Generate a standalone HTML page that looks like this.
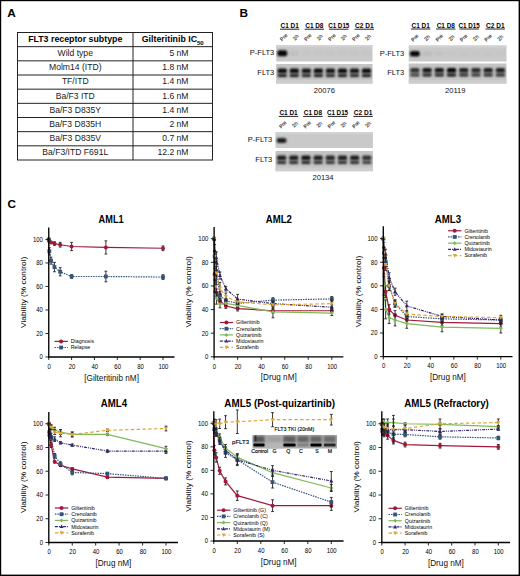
<!DOCTYPE html><html><head><meta charset="utf-8"><style>html,body{margin:0;padding:0;background:#fff;}svg{display:block;}</style></head><body>
<svg width="520" height="576" viewBox="0 0 520 576" font-family='"Liberation Sans", sans-serif'>
<defs><filter id="bl" x="-50%" y="-50%" width="200%" height="200%"><feGaussianBlur stdDeviation="0.7"/></filter><filter id="bl3" x="-50%" y="-50%" width="200%" height="200%"><feGaussianBlur stdDeviation="0.8"/></filter><filter id="bl2" x="-50%" y="-50%" width="200%" height="200%"><feGaussianBlur stdDeviation="1.2"/></filter></defs>
<rect x="0" y="0" width="520" height="576" fill="#000"/>
<rect x="1.2" y="1.2" width="517.4" height="573.4" fill="#fff"/>
<text x="7.3" y="16.9" font-size="11.8" font-weight="bold">A</text>
<text x="239.5" y="17" font-size="11.8" font-weight="bold">B</text>
<text x="7.5" y="207.8" font-size="11.8" font-weight="bold">C</text>
<rect x="17.5" y="32.5" width="195.0" height="127.5" fill="none" stroke="#222" stroke-width="1"/>
<line x1="133.0" y1="32.5" x2="133.0" y2="160.0" stroke="#222" stroke-width="1"/>
<line x1="17.5" y1="46.67" x2="212.5" y2="46.67" stroke="#222" stroke-width="1"/>
<line x1="17.5" y1="60.83" x2="212.5" y2="60.83" stroke="#222" stroke-width="1"/>
<line x1="17.5" y1="75.00" x2="212.5" y2="75.00" stroke="#222" stroke-width="1"/>
<line x1="17.5" y1="89.17" x2="212.5" y2="89.17" stroke="#222" stroke-width="1"/>
<line x1="17.5" y1="103.33" x2="212.5" y2="103.33" stroke="#222" stroke-width="1"/>
<line x1="17.5" y1="117.50" x2="212.5" y2="117.50" stroke="#222" stroke-width="1"/>
<line x1="17.5" y1="131.67" x2="212.5" y2="131.67" stroke="#222" stroke-width="1"/>
<line x1="17.5" y1="145.83" x2="212.5" y2="145.83" stroke="#222" stroke-width="1"/>
<text x="75.25" y="42.18" font-size="8.8" font-weight="bold" text-anchor="middle">FLT3 receptor subtype</text>
<text x="172.75" y="42.18" font-size="8.8" font-weight="bold" text-anchor="middle">Gilteritinib IC<tspan font-size="6" dy="2.5">50</tspan></text>
<text x="75.25" y="56.15" font-size="8.6" text-anchor="middle" fill="#1a1a1a">Wild type</text>
<text x="188.5" y="56.15" font-size="8.6" text-anchor="end" fill="#1a1a1a">5 nM</text>
<text x="75.25" y="70.32" font-size="8.6" text-anchor="middle" fill="#1a1a1a">Molm14 (ITD)</text>
<text x="188.5" y="70.32" font-size="8.6" text-anchor="end" fill="#1a1a1a">1.8 nM</text>
<text x="75.25" y="84.48" font-size="8.6" text-anchor="middle" fill="#1a1a1a">TF/ITD</text>
<text x="188.5" y="84.48" font-size="8.6" text-anchor="end" fill="#1a1a1a">1.4 nM</text>
<text x="75.25" y="98.65" font-size="8.6" text-anchor="middle" fill="#1a1a1a">Ba/F3 ITD</text>
<text x="188.5" y="98.65" font-size="8.6" text-anchor="end" fill="#1a1a1a">1.6 nM</text>
<text x="75.25" y="112.82" font-size="8.6" text-anchor="middle" fill="#1a1a1a">Ba/F3 D835Y</text>
<text x="188.5" y="112.82" font-size="8.6" text-anchor="end" fill="#1a1a1a">1.4 nM</text>
<text x="75.25" y="126.98" font-size="8.6" text-anchor="middle" fill="#1a1a1a">Ba/F3 D835H</text>
<text x="188.5" y="126.98" font-size="8.6" text-anchor="end" fill="#1a1a1a">2 nM</text>
<text x="75.25" y="141.15" font-size="8.6" text-anchor="middle" fill="#1a1a1a">Ba/F3 D835V</text>
<text x="188.5" y="141.15" font-size="8.6" text-anchor="end" fill="#1a1a1a">0.7 nM</text>
<text x="75.25" y="155.32" font-size="8.6" text-anchor="middle" fill="#1a1a1a">Ba/F3/ITD F691L</text>
<text x="188.5" y="155.32" font-size="8.6" text-anchor="end" fill="#1a1a1a">12.2 nM</text>
<text x="289.65" y="27.90" font-size="6.9" font-weight="bold" text-anchor="middle" fill="#000" textLength="18.2" lengthAdjust="spacingAndGlyphs">C1 D1</text>
<line x1="279.95" y1="29.20" x2="299.35" y2="29.20" stroke="#222" stroke-width="1"/>
<text x="283.77" y="39.10" font-size="5.2" text-anchor="middle" transform="rotate(-45 283.77 37.40)" fill="#3a3a3a" stroke="#3a3a3a" stroke-width="0.15">Pre</text>
<text x="295.80" y="39.10" font-size="5.2" text-anchor="middle" transform="rotate(-45 295.80 37.40)" fill="#3a3a3a" stroke="#3a3a3a" stroke-width="0.15">2h</text>
<text x="314.35" y="27.90" font-size="6.9" font-weight="bold" text-anchor="middle" fill="#000" textLength="18.2" lengthAdjust="spacingAndGlyphs">C1 D8</text>
<line x1="304.65" y1="29.20" x2="324.05" y2="29.20" stroke="#222" stroke-width="1"/>
<text x="307.83" y="39.10" font-size="5.2" text-anchor="middle" transform="rotate(-45 307.83 37.40)" fill="#3a3a3a" stroke="#3a3a3a" stroke-width="0.15">Pre</text>
<text x="319.86" y="39.10" font-size="5.2" text-anchor="middle" transform="rotate(-45 319.86 37.40)" fill="#3a3a3a" stroke="#3a3a3a" stroke-width="0.15">2h</text>
<text x="338.75" y="27.90" font-size="6.9" font-weight="bold" text-anchor="middle" fill="#000" textLength="21.2" lengthAdjust="spacingAndGlyphs">C1 D15</text>
<line x1="329.05" y1="29.20" x2="348.45" y2="29.20" stroke="#222" stroke-width="1"/>
<text x="331.89" y="39.10" font-size="5.2" text-anchor="middle" transform="rotate(-45 331.89 37.40)" fill="#3a3a3a" stroke="#3a3a3a" stroke-width="0.15">Pre</text>
<text x="343.92" y="39.10" font-size="5.2" text-anchor="middle" transform="rotate(-45 343.92 37.40)" fill="#3a3a3a" stroke="#3a3a3a" stroke-width="0.15">2h</text>
<text x="364.35" y="27.90" font-size="6.9" font-weight="bold" text-anchor="middle" fill="#000" textLength="18.6" lengthAdjust="spacingAndGlyphs">C2 D1</text>
<line x1="354.65" y1="29.20" x2="374.05" y2="29.20" stroke="#222" stroke-width="1"/>
<text x="355.95" y="39.10" font-size="5.2" text-anchor="middle" transform="rotate(-45 355.95 37.40)" fill="#3a3a3a" stroke="#3a3a3a" stroke-width="0.15">Pre</text>
<text x="367.98" y="39.10" font-size="5.2" text-anchor="middle" transform="rotate(-45 367.98 37.40)" fill="#3a3a3a" stroke="#3a3a3a" stroke-width="0.15">2h</text>
<rect x="276.25" y="45" width="96.25" height="16.5" fill="#c9c9c9"/>
<rect x="276.25" y="45" width="96.25" height="2" fill="#d2d2d2"/>
<rect x="276.25" y="64" width="96.25" height="19.5" fill="#c4c4c4"/>
<rect x="276.25" y="80.0" width="96.25" height="3.5" fill="#cdcdcd"/>
<rect x="277.37" y="50.30" width="9.8" height="6" rx="2" fill="#000" opacity="0.97" filter="url(#bl3)"/>
<rect x="289.40" y="50.80" width="9.8" height="5" rx="2" fill="#000" opacity="0.04" filter="url(#bl3)"/>
<rect x="301.43" y="50.80" width="9.8" height="5" rx="2" fill="#000" opacity="0.02" filter="url(#bl3)"/>
<rect x="313.46" y="50.80" width="9.8" height="5" rx="2" fill="#000" opacity="0.02" filter="url(#bl3)"/>
<rect x="325.49" y="50.80" width="9.8" height="5" rx="2" fill="#000" opacity="0.02" filter="url(#bl3)"/>
<rect x="337.52" y="50.80" width="9.8" height="5" rx="2" fill="#000" opacity="0.02" filter="url(#bl3)"/>
<rect x="349.55" y="50.80" width="9.8" height="5" rx="2" fill="#000" opacity="0.02" filter="url(#bl3)"/>
<rect x="361.58" y="50.80" width="9.8" height="5" rx="2" fill="#000" opacity="0.02" filter="url(#bl3)"/>
<rect x="277.67" y="68.40" width="9.2" height="4.6" rx="1.5" fill="#000" opacity="0.95" filter="url(#bl3)"/>
<rect x="277.67" y="74.20" width="9.2" height="2.8" rx="1.2" fill="#000" opacity="0.9025" filter="url(#bl3)"/>
<rect x="277.67" y="72.60" width="9.2" height="1.8" fill="#000" opacity="0.33249999999999996" filter="url(#bl3)"/>
<rect x="289.70" y="68.40" width="9.2" height="4.6" rx="1.5" fill="#000" opacity="0.95" filter="url(#bl3)"/>
<rect x="289.70" y="74.20" width="9.2" height="2.8" rx="1.2" fill="#000" opacity="0.9025" filter="url(#bl3)"/>
<rect x="289.70" y="72.60" width="9.2" height="1.8" fill="#000" opacity="0.33249999999999996" filter="url(#bl3)"/>
<rect x="301.73" y="68.40" width="9.2" height="4.6" rx="1.5" fill="#000" opacity="0.9" filter="url(#bl3)"/>
<rect x="301.73" y="74.20" width="9.2" height="2.8" rx="1.2" fill="#000" opacity="0.855" filter="url(#bl3)"/>
<rect x="301.73" y="72.60" width="9.2" height="1.8" fill="#000" opacity="0.315" filter="url(#bl3)"/>
<rect x="313.76" y="68.40" width="9.2" height="4.6" rx="1.5" fill="#000" opacity="0.95" filter="url(#bl3)"/>
<rect x="313.76" y="74.20" width="9.2" height="2.8" rx="1.2" fill="#000" opacity="0.9025" filter="url(#bl3)"/>
<rect x="313.76" y="72.60" width="9.2" height="1.8" fill="#000" opacity="0.33249999999999996" filter="url(#bl3)"/>
<rect x="325.79" y="68.40" width="9.2" height="4.6" rx="1.5" fill="#000" opacity="0.9" filter="url(#bl3)"/>
<rect x="325.79" y="74.20" width="9.2" height="2.8" rx="1.2" fill="#000" opacity="0.855" filter="url(#bl3)"/>
<rect x="325.79" y="72.60" width="9.2" height="1.8" fill="#000" opacity="0.315" filter="url(#bl3)"/>
<rect x="337.82" y="68.40" width="9.2" height="4.6" rx="1.5" fill="#000" opacity="0.95" filter="url(#bl3)"/>
<rect x="337.82" y="74.20" width="9.2" height="2.8" rx="1.2" fill="#000" opacity="0.9025" filter="url(#bl3)"/>
<rect x="337.82" y="72.60" width="9.2" height="1.8" fill="#000" opacity="0.33249999999999996" filter="url(#bl3)"/>
<rect x="349.85" y="68.40" width="9.2" height="4.6" rx="1.5" fill="#000" opacity="0.9" filter="url(#bl3)"/>
<rect x="349.85" y="74.20" width="9.2" height="2.8" rx="1.2" fill="#000" opacity="0.855" filter="url(#bl3)"/>
<rect x="349.85" y="72.60" width="9.2" height="1.8" fill="#000" opacity="0.315" filter="url(#bl3)"/>
<rect x="361.88" y="68.40" width="9.2" height="4.6" rx="1.5" fill="#000" opacity="0.95" filter="url(#bl3)"/>
<rect x="361.88" y="74.20" width="9.2" height="2.8" rx="1.2" fill="#000" opacity="0.9025" filter="url(#bl3)"/>
<rect x="361.88" y="72.60" width="9.2" height="1.8" fill="#000" opacity="0.33249999999999996" filter="url(#bl3)"/>
<text x="274.30" y="55.00" font-size="7.5" text-anchor="end" fill="#111">P-FLT3</text>
<text x="274.30" y="75.20" font-size="7.5" text-anchor="end" fill="#111">FLT3</text>
<text x="324.40" y="92.80" font-size="7.6" text-anchor="middle" fill="#111">20076</text>
<text x="420.65" y="27.70" font-size="6.9" font-weight="bold" text-anchor="middle" fill="#000" textLength="18.2" lengthAdjust="spacingAndGlyphs">C1 D1</text>
<line x1="410.95" y1="29.00" x2="430.35" y2="29.00" stroke="#222" stroke-width="1"/>
<text x="414.86" y="39.60" font-size="5.2" text-anchor="middle" transform="rotate(-45 414.86 37.90)" fill="#3a3a3a" stroke="#3a3a3a" stroke-width="0.15">Pre</text>
<text x="427.08" y="39.60" font-size="5.2" text-anchor="middle" transform="rotate(-45 427.08 37.90)" fill="#3a3a3a" stroke="#3a3a3a" stroke-width="0.15">2h</text>
<text x="445.75" y="27.70" font-size="6.9" font-weight="bold" text-anchor="middle" fill="#000" textLength="18.2" lengthAdjust="spacingAndGlyphs">C1 D8</text>
<line x1="436.05" y1="29.00" x2="455.45" y2="29.00" stroke="#222" stroke-width="1"/>
<text x="439.30" y="39.60" font-size="5.2" text-anchor="middle" transform="rotate(-45 439.30 37.90)" fill="#3a3a3a" stroke="#3a3a3a" stroke-width="0.15">Pre</text>
<text x="451.52" y="39.60" font-size="5.2" text-anchor="middle" transform="rotate(-45 451.52 37.90)" fill="#3a3a3a" stroke="#3a3a3a" stroke-width="0.15">2h</text>
<text x="469.15" y="27.70" font-size="6.9" font-weight="bold" text-anchor="middle" fill="#000" textLength="21.2" lengthAdjust="spacingAndGlyphs">C1 D15</text>
<line x1="459.45" y1="29.00" x2="478.85" y2="29.00" stroke="#222" stroke-width="1"/>
<text x="463.73" y="39.60" font-size="5.2" text-anchor="middle" transform="rotate(-45 463.73 37.90)" fill="#3a3a3a" stroke="#3a3a3a" stroke-width="0.15">Pre</text>
<text x="475.95" y="39.60" font-size="5.2" text-anchor="middle" transform="rotate(-45 475.95 37.90)" fill="#3a3a3a" stroke="#3a3a3a" stroke-width="0.15">2h</text>
<text x="495.25" y="27.70" font-size="6.9" font-weight="bold" text-anchor="middle" fill="#000" textLength="18.6" lengthAdjust="spacingAndGlyphs">C2 D1</text>
<line x1="485.55" y1="29.00" x2="504.95" y2="29.00" stroke="#222" stroke-width="1"/>
<text x="488.17" y="39.60" font-size="5.2" text-anchor="middle" transform="rotate(-45 488.17 37.90)" fill="#3a3a3a" stroke="#3a3a3a" stroke-width="0.15">Pre</text>
<text x="500.39" y="39.60" font-size="5.2" text-anchor="middle" transform="rotate(-45 500.39 37.90)" fill="#3a3a3a" stroke="#3a3a3a" stroke-width="0.15">2h</text>
<rect x="408.75" y="45.5" width="97.75" height="16" fill="#c9c9c9"/>
<rect x="408.75" y="45.5" width="97.75" height="2" fill="#d2d2d2"/>
<rect x="408.75" y="63.5" width="97.75" height="20" fill="#c4c4c4"/>
<rect x="408.75" y="80.0" width="97.75" height="3.5" fill="#cdcdcd"/>
<rect x="409.96" y="51.05" width="9.8" height="5.5" rx="2" fill="#000" opacity="0.97" filter="url(#bl3)"/>
<rect x="422.18" y="51.30" width="9.8" height="5" rx="2" fill="#000" opacity="0.05" filter="url(#bl3)"/>
<rect x="434.40" y="51.30" width="9.8" height="5" rx="2" fill="#000" opacity="0.03" filter="url(#bl3)"/>
<rect x="446.62" y="51.30" width="9.8" height="5" rx="2" fill="#000" opacity="0.02" filter="url(#bl3)"/>
<rect x="458.83" y="51.30" width="9.8" height="5" rx="2" fill="#000" opacity="0.02" filter="url(#bl3)"/>
<rect x="471.05" y="51.30" width="9.8" height="5" rx="2" fill="#000" opacity="0.02" filter="url(#bl3)"/>
<rect x="483.27" y="51.30" width="9.8" height="5" rx="2" fill="#000" opacity="0.02" filter="url(#bl3)"/>
<rect x="495.49" y="51.30" width="9.8" height="5" rx="2" fill="#000" opacity="0.02" filter="url(#bl3)"/>
<rect x="410.26" y="67.90" width="9.2" height="4.6" rx="1.5" fill="#000" opacity="0.75" filter="url(#bl3)"/>
<rect x="410.26" y="73.70" width="9.2" height="2.8" rx="1.2" fill="#000" opacity="0.7124999999999999" filter="url(#bl3)"/>
<rect x="410.26" y="72.10" width="9.2" height="1.8" fill="#000" opacity="0.26249999999999996" filter="url(#bl3)"/>
<rect x="422.48" y="67.90" width="9.2" height="4.6" rx="1.5" fill="#000" opacity="0.9" filter="url(#bl3)"/>
<rect x="422.48" y="73.70" width="9.2" height="2.8" rx="1.2" fill="#000" opacity="0.855" filter="url(#bl3)"/>
<rect x="422.48" y="72.10" width="9.2" height="1.8" fill="#000" opacity="0.315" filter="url(#bl3)"/>
<rect x="434.70" y="67.90" width="9.2" height="4.6" rx="1.5" fill="#000" opacity="0.9" filter="url(#bl3)"/>
<rect x="434.70" y="73.70" width="9.2" height="2.8" rx="1.2" fill="#000" opacity="0.855" filter="url(#bl3)"/>
<rect x="434.70" y="72.10" width="9.2" height="1.8" fill="#000" opacity="0.315" filter="url(#bl3)"/>
<rect x="446.92" y="67.90" width="9.2" height="4.6" rx="1.5" fill="#000" opacity="1" filter="url(#bl3)"/>
<rect x="446.92" y="73.70" width="9.2" height="2.8" rx="1.2" fill="#000" opacity="0.95" filter="url(#bl3)"/>
<rect x="446.92" y="72.10" width="9.2" height="1.8" fill="#000" opacity="0.35" filter="url(#bl3)"/>
<rect x="459.13" y="67.90" width="9.2" height="4.6" rx="1.5" fill="#000" opacity="0.85" filter="url(#bl3)"/>
<rect x="459.13" y="73.70" width="9.2" height="2.8" rx="1.2" fill="#000" opacity="0.8075" filter="url(#bl3)"/>
<rect x="459.13" y="72.10" width="9.2" height="1.8" fill="#000" opacity="0.2975" filter="url(#bl3)"/>
<rect x="471.35" y="67.90" width="9.2" height="4.6" rx="1.5" fill="#000" opacity="0.8" filter="url(#bl3)"/>
<rect x="471.35" y="73.70" width="9.2" height="2.8" rx="1.2" fill="#000" opacity="0.76" filter="url(#bl3)"/>
<rect x="471.35" y="72.10" width="9.2" height="1.8" fill="#000" opacity="0.27999999999999997" filter="url(#bl3)"/>
<rect x="483.57" y="67.90" width="9.2" height="4.6" rx="1.5" fill="#000" opacity="0.85" filter="url(#bl3)"/>
<rect x="483.57" y="73.70" width="9.2" height="2.8" rx="1.2" fill="#000" opacity="0.8075" filter="url(#bl3)"/>
<rect x="483.57" y="72.10" width="9.2" height="1.8" fill="#000" opacity="0.2975" filter="url(#bl3)"/>
<rect x="495.79" y="67.90" width="9.2" height="4.6" rx="1.5" fill="#000" opacity="0.85" filter="url(#bl3)"/>
<rect x="495.79" y="73.70" width="9.2" height="2.8" rx="1.2" fill="#000" opacity="0.8075" filter="url(#bl3)"/>
<rect x="495.79" y="72.10" width="9.2" height="1.8" fill="#000" opacity="0.2975" filter="url(#bl3)"/>
<text x="404.20" y="55.50" font-size="7.5" text-anchor="end" fill="#111">P-FLT3</text>
<text x="404.20" y="74.70" font-size="7.5" text-anchor="end" fill="#111">FLT3</text>
<text x="455.30" y="92.50" font-size="7.6" text-anchor="middle" fill="#111">20119</text>
<text x="288.50" y="115.10" font-size="6.9" font-weight="bold" text-anchor="middle" fill="#000" textLength="18.2" lengthAdjust="spacingAndGlyphs">C1 D1</text>
<line x1="278.80" y1="116.40" x2="298.20" y2="116.40" stroke="#222" stroke-width="1"/>
<text x="282.79" y="126.30" font-size="5.2" text-anchor="middle" transform="rotate(-45 282.79 124.60)" fill="#3a3a3a" stroke="#3a3a3a" stroke-width="0.15">Pre</text>
<text x="294.96" y="126.30" font-size="5.2" text-anchor="middle" transform="rotate(-45 294.96 124.60)" fill="#3a3a3a" stroke="#3a3a3a" stroke-width="0.15">2h</text>
<text x="312.90" y="115.10" font-size="6.9" font-weight="bold" text-anchor="middle" fill="#000" textLength="18.2" lengthAdjust="spacingAndGlyphs">C1 D8</text>
<line x1="303.20" y1="116.40" x2="322.60" y2="116.40" stroke="#222" stroke-width="1"/>
<text x="307.14" y="126.30" font-size="5.2" text-anchor="middle" transform="rotate(-45 307.14 124.60)" fill="#3a3a3a" stroke="#3a3a3a" stroke-width="0.15">Pre</text>
<text x="319.31" y="126.30" font-size="5.2" text-anchor="middle" transform="rotate(-45 319.31 124.60)" fill="#3a3a3a" stroke="#3a3a3a" stroke-width="0.15">2h</text>
<text x="337.50" y="115.10" font-size="6.9" font-weight="bold" text-anchor="middle" fill="#000" textLength="21.2" lengthAdjust="spacingAndGlyphs">C1 D15</text>
<line x1="327.80" y1="116.40" x2="347.20" y2="116.40" stroke="#222" stroke-width="1"/>
<text x="331.49" y="126.30" font-size="5.2" text-anchor="middle" transform="rotate(-45 331.49 124.60)" fill="#3a3a3a" stroke="#3a3a3a" stroke-width="0.15">Pre</text>
<text x="343.66" y="126.30" font-size="5.2" text-anchor="middle" transform="rotate(-45 343.66 124.60)" fill="#3a3a3a" stroke="#3a3a3a" stroke-width="0.15">2h</text>
<text x="363.10" y="115.10" font-size="6.9" font-weight="bold" text-anchor="middle" fill="#000" textLength="18.6" lengthAdjust="spacingAndGlyphs">C2 D1</text>
<line x1="353.40" y1="116.40" x2="372.80" y2="116.40" stroke="#222" stroke-width="1"/>
<text x="355.84" y="126.30" font-size="5.2" text-anchor="middle" transform="rotate(-45 355.84 124.60)" fill="#3a3a3a" stroke="#3a3a3a" stroke-width="0.15">Pre</text>
<text x="368.01" y="126.30" font-size="5.2" text-anchor="middle" transform="rotate(-45 368.01 124.60)" fill="#3a3a3a" stroke="#3a3a3a" stroke-width="0.15">2h</text>
<rect x="275.5" y="132.2" width="97.4" height="15.8" fill="#c9c9c9"/>
<rect x="275.5" y="132.2" width="97.4" height="2" fill="#d2d2d2"/>
<rect x="275.5" y="151" width="97.4" height="20.2" fill="#c4c4c4"/>
<rect x="275.5" y="167.7" width="97.4" height="3.5" fill="#cdcdcd"/>
<rect x="276.69" y="138.00" width="9.8" height="5" rx="2" fill="#000" opacity="0.85" filter="url(#bl3)"/>
<rect x="276.99" y="155.40" width="9.2" height="4.6" rx="1.5" fill="#000" opacity="0.85" filter="url(#bl3)"/>
<rect x="276.99" y="161.20" width="9.2" height="2.8" rx="1.2" fill="#000" opacity="0.8075" filter="url(#bl3)"/>
<rect x="276.99" y="159.60" width="9.2" height="1.8" fill="#000" opacity="0.2975" filter="url(#bl3)"/>
<rect x="289.16" y="155.40" width="9.2" height="4.6" rx="1.5" fill="#000" opacity="0.85" filter="url(#bl3)"/>
<rect x="289.16" y="161.20" width="9.2" height="2.8" rx="1.2" fill="#000" opacity="0.8075" filter="url(#bl3)"/>
<rect x="289.16" y="159.60" width="9.2" height="1.8" fill="#000" opacity="0.2975" filter="url(#bl3)"/>
<rect x="301.34" y="155.40" width="9.2" height="4.6" rx="1.5" fill="#000" opacity="0.9" filter="url(#bl3)"/>
<rect x="301.34" y="161.20" width="9.2" height="2.8" rx="1.2" fill="#000" opacity="0.855" filter="url(#bl3)"/>
<rect x="301.34" y="159.60" width="9.2" height="1.8" fill="#000" opacity="0.315" filter="url(#bl3)"/>
<rect x="313.51" y="155.40" width="9.2" height="4.6" rx="1.5" fill="#000" opacity="0.85" filter="url(#bl3)"/>
<rect x="313.51" y="161.20" width="9.2" height="2.8" rx="1.2" fill="#000" opacity="0.8075" filter="url(#bl3)"/>
<rect x="313.51" y="159.60" width="9.2" height="1.8" fill="#000" opacity="0.2975" filter="url(#bl3)"/>
<rect x="325.69" y="155.40" width="9.2" height="4.6" rx="1.5" fill="#000" opacity="0.8" filter="url(#bl3)"/>
<rect x="325.69" y="161.20" width="9.2" height="2.8" rx="1.2" fill="#000" opacity="0.76" filter="url(#bl3)"/>
<rect x="325.69" y="159.60" width="9.2" height="1.8" fill="#000" opacity="0.27999999999999997" filter="url(#bl3)"/>
<rect x="337.86" y="155.40" width="9.2" height="4.6" rx="1.5" fill="#000" opacity="0.85" filter="url(#bl3)"/>
<rect x="337.86" y="161.20" width="9.2" height="2.8" rx="1.2" fill="#000" opacity="0.8075" filter="url(#bl3)"/>
<rect x="337.86" y="159.60" width="9.2" height="1.8" fill="#000" opacity="0.2975" filter="url(#bl3)"/>
<rect x="350.04" y="155.40" width="9.2" height="4.6" rx="1.5" fill="#000" opacity="0.85" filter="url(#bl3)"/>
<rect x="350.04" y="161.20" width="9.2" height="2.8" rx="1.2" fill="#000" opacity="0.8075" filter="url(#bl3)"/>
<rect x="350.04" y="159.60" width="9.2" height="1.8" fill="#000" opacity="0.2975" filter="url(#bl3)"/>
<rect x="362.21" y="155.40" width="9.2" height="4.6" rx="1.5" fill="#000" opacity="0.75" filter="url(#bl3)"/>
<rect x="362.21" y="161.20" width="9.2" height="2.8" rx="1.2" fill="#000" opacity="0.7124999999999999" filter="url(#bl3)"/>
<rect x="362.21" y="159.60" width="9.2" height="1.8" fill="#000" opacity="0.26249999999999996" filter="url(#bl3)"/>
<text x="272.30" y="142.20" font-size="7.5" text-anchor="end" fill="#111">P-FLT3</text>
<text x="272.30" y="162.20" font-size="7.5" text-anchor="end" fill="#111">FLT3</text>
<text x="323.00" y="179.70" font-size="7.6" text-anchor="middle" fill="#111">20134</text>
<polyline points="48.75,239.45 49.32,241.21 51.03,242.39 54.46,243.56 60.17,244.74 71.60,246.50 105.88,247.44 163.00,248.27" fill="none" stroke="#a3173a" stroke-width="1.2"/>
<polyline points="48.75,239.45 49.32,251.20 51.03,260.61 54.46,267.07 60.17,271.78 71.60,276.48 105.88,276.48 163.00,277.07" fill="none" stroke="#34547c" stroke-width="1.2" stroke-dasharray="1.5,1"/>
<circle cx="48.75" cy="239.45" r="2" fill="#a3173a"/>
<path d="M49.32 240.04V242.39M47.92 240.04H50.72M47.92 242.39H50.72" stroke="#222" stroke-width="0.9" fill="none"/>
<circle cx="49.32" cy="241.21" r="2" fill="#a3173a"/>
<path d="M51.03 241.21V243.56M49.63 241.21H52.43M49.63 243.56H52.43" stroke="#222" stroke-width="0.9" fill="none"/>
<circle cx="51.03" cy="242.39" r="2" fill="#a3173a"/>
<path d="M54.46 241.80V245.33M53.06 241.80H55.86M53.06 245.33H55.86" stroke="#222" stroke-width="0.9" fill="none"/>
<circle cx="54.46" cy="243.56" r="2" fill="#a3173a"/>
<path d="M60.17 242.39V247.09M58.77 242.39H61.57M58.77 247.09H61.57" stroke="#222" stroke-width="0.9" fill="none"/>
<circle cx="60.17" cy="244.74" r="2" fill="#a3173a"/>
<path d="M71.60 242.39V250.62M70.20 242.39H73.00M70.20 250.62H73.00" stroke="#222" stroke-width="0.9" fill="none"/>
<circle cx="71.60" cy="246.50" r="2" fill="#a3173a"/>
<path d="M105.88 240.86V254.03M104.47 240.86H107.28M104.47 254.03H107.28" stroke="#222" stroke-width="0.9" fill="none"/>
<circle cx="105.88" cy="247.44" r="2" fill="#a3173a"/>
<path d="M163.00 245.92V250.62M161.60 245.92H164.40M161.60 250.62H164.40" stroke="#222" stroke-width="0.9" fill="none"/>
<circle cx="163.00" cy="248.27" r="2" fill="#a3173a"/>
<rect x="46.85" y="237.55" width="3.8" height="3.8" fill="#34547c"/>
<path d="M49.32 247.68V254.73M47.92 247.68H50.72M47.92 254.73H50.72" stroke="#222" stroke-width="0.9" fill="none"/>
<rect x="47.42" y="249.30" width="3.8" height="3.8" fill="#34547c"/>
<path d="M51.03 257.08V264.14M49.63 257.08H52.43M49.63 264.14H52.43" stroke="#222" stroke-width="0.9" fill="none"/>
<rect x="49.13" y="258.71" width="3.8" height="3.8" fill="#34547c"/>
<path d="M54.46 262.37V271.78M53.06 262.37H55.86M53.06 271.78H55.86" stroke="#222" stroke-width="0.9" fill="none"/>
<rect x="52.56" y="265.17" width="3.8" height="3.8" fill="#34547c"/>
<path d="M60.17 267.66V275.89M58.77 267.66H61.57M58.77 275.89H61.57" stroke="#222" stroke-width="0.9" fill="none"/>
<rect x="58.27" y="269.88" width="3.8" height="3.8" fill="#34547c"/>
<path d="M71.60 274.72V278.24M70.20 274.72H73.00M70.20 278.24H73.00" stroke="#222" stroke-width="0.9" fill="none"/>
<rect x="69.70" y="274.58" width="3.8" height="3.8" fill="#34547c"/>
<path d="M105.88 271.19V281.77M104.47 271.19H107.28M104.47 281.77H107.28" stroke="#222" stroke-width="0.9" fill="none"/>
<rect x="103.97" y="274.58" width="3.8" height="3.8" fill="#34547c"/>
<path d="M163.00 274.72V279.42M161.60 274.72H164.40M161.60 279.42H164.40" stroke="#222" stroke-width="0.9" fill="none"/>
<rect x="161.10" y="275.17" width="3.8" height="3.8" fill="#34547c"/>
<line x1="48.75" y1="227.6" x2="48.75" y2="357.7" stroke="#000" stroke-width="1.35"/>
<line x1="48.05" y1="357" x2="174.5" y2="357" stroke="#000" stroke-width="1.35"/>
<line x1="45.45" y1="357.00" x2="48.75" y2="357.00" stroke="#111" stroke-width="0.9"/>
<text transform="translate(42.95 359.40) scale(1 1.15)" font-size="6" text-anchor="end" fill="#000">0</text>
<line x1="48.75" y1="357" x2="48.75" y2="360" stroke="#111" stroke-width="0.9"/>
<text transform="translate(49.15 368.80) scale(1 1.15)" font-size="6" text-anchor="middle" fill="#000">0</text>
<line x1="45.45" y1="333.49" x2="48.75" y2="333.49" stroke="#111" stroke-width="0.9"/>
<text transform="translate(42.95 335.89) scale(1 1.15)" font-size="6" text-anchor="end" fill="#000">20</text>
<line x1="71.60" y1="357" x2="71.60" y2="360" stroke="#111" stroke-width="0.9"/>
<text transform="translate(72.00 368.80) scale(1 1.15)" font-size="6" text-anchor="middle" fill="#000">20</text>
<line x1="45.45" y1="309.98" x2="48.75" y2="309.98" stroke="#111" stroke-width="0.9"/>
<text transform="translate(42.95 312.38) scale(1 1.15)" font-size="6" text-anchor="end" fill="#000">40</text>
<line x1="94.45" y1="357" x2="94.45" y2="360" stroke="#111" stroke-width="0.9"/>
<text transform="translate(94.85 368.80) scale(1 1.15)" font-size="6" text-anchor="middle" fill="#000">40</text>
<line x1="45.45" y1="286.47" x2="48.75" y2="286.47" stroke="#111" stroke-width="0.9"/>
<text transform="translate(42.95 288.87) scale(1 1.15)" font-size="6" text-anchor="end" fill="#000">60</text>
<line x1="117.30" y1="357" x2="117.30" y2="360" stroke="#111" stroke-width="0.9"/>
<text transform="translate(117.70 368.80) scale(1 1.15)" font-size="6" text-anchor="middle" fill="#000">60</text>
<line x1="45.45" y1="262.96" x2="48.75" y2="262.96" stroke="#111" stroke-width="0.9"/>
<text transform="translate(42.95 265.36) scale(1 1.15)" font-size="6" text-anchor="end" fill="#000">80</text>
<line x1="140.15" y1="357" x2="140.15" y2="360" stroke="#111" stroke-width="0.9"/>
<text transform="translate(140.55 368.80) scale(1 1.15)" font-size="6" text-anchor="middle" fill="#000">80</text>
<line x1="45.45" y1="239.45" x2="48.75" y2="239.45" stroke="#111" stroke-width="0.9"/>
<text transform="translate(42.95 241.85) scale(1 1.15)" font-size="6" text-anchor="end" fill="#000">100</text>
<line x1="163.00" y1="357" x2="163.00" y2="360" stroke="#111" stroke-width="0.9"/>
<text transform="translate(163.40 368.80) scale(1 1.15)" font-size="6" text-anchor="middle" fill="#000">100</text>
<text transform="translate(25.95 292.30) rotate(-90) scale(1.06 1)" font-size="7.9" text-anchor="middle" fill="#000">Viability (% control)</text>
<text transform="translate(111.62 380.60) scale(1 1.2)" font-size="8.2" text-anchor="middle" fill="#111">[Gilteritinib nM]</text>
<text transform="translate(111.10 222.60) scale(1 1.15)" font-size="9" font-weight="bold" text-anchor="middle" textLength="25" lengthAdjust="spacingAndGlyphs">AML1</text>
<line x1="54.5" y1="341.40" x2="67.8" y2="341.40" stroke="#a3173a" stroke-width="1.2"/>
<circle cx="61.10" cy="341.40" r="2" fill="#a3173a"/>
<text transform="translate(70.80 343.30) scale(1 1.15)" font-size="5.3" fill="#000">Diagnosis</text>
<line x1="54.5" y1="347.50" x2="67.8" y2="347.50" stroke="#34547c" stroke-width="1.2" stroke-dasharray="1.5,1"/>
<rect x="59.20" y="345.60" width="3.8" height="3.8" fill="#34547c"/>
<text transform="translate(70.80 349.40) scale(1 1.15)" font-size="5.3" fill="#000">Relapse</text>
<polyline points="214.10,238.70 214.69,274.13 216.45,292.55 219.98,300.70 225.87,306.02 237.64,308.62 272.95,310.74 331.80,310.74" fill="none" stroke="#a3173a" stroke-width="1.2"/>
<polyline points="214.10,238.70 214.69,256.42 216.45,271.18 219.98,295.39 225.87,300.70 237.64,303.30 272.95,300.11 331.80,298.93" fill="none" stroke="#34547c" stroke-width="1.2" stroke-dasharray="1.5,1"/>
<polyline points="214.10,238.70 214.69,285.94 216.45,298.22 219.98,304.25 225.87,303.30 237.64,305.43 272.95,311.92 331.80,313.10" fill="none" stroke="#80b958" stroke-width="1.2"/>
<polyline points="214.10,238.70 214.69,250.51 216.45,257.83 219.98,275.55 225.87,288.66 237.64,299.05 272.95,303.66 331.80,307.20" fill="none" stroke="#33286a" stroke-width="1.2" stroke-dasharray="3,1,1,1,1,1"/>
<polyline points="214.10,238.70 214.69,256.42 216.45,272.95 219.98,288.30 225.87,296.57 237.64,301.88 272.95,304.84 331.80,303.66" fill="none" stroke="#e2a532" stroke-width="1.2" stroke-dasharray="3.5,2.3"/>
<circle cx="214.10" cy="238.70" r="2" fill="#a3173a"/>
<path d="M214.69 268.23V280.04M213.29 268.23H216.09M213.29 280.04H216.09" stroke="#222" stroke-width="0.9" fill="none"/>
<circle cx="214.69" cy="274.13" r="2" fill="#a3173a"/>
<path d="M216.45 289.01V296.10M215.05 289.01H217.85M215.05 296.10H217.85" stroke="#222" stroke-width="0.9" fill="none"/>
<circle cx="216.45" cy="292.55" r="2" fill="#a3173a"/>
<path d="M219.98 298.34V303.06M218.58 298.34H221.38M218.58 303.06H221.38" stroke="#222" stroke-width="0.9" fill="none"/>
<circle cx="219.98" cy="300.70" r="2" fill="#a3173a"/>
<path d="M225.87 303.66V308.38M224.47 303.66H227.27M224.47 308.38H227.27" stroke="#222" stroke-width="0.9" fill="none"/>
<circle cx="225.87" cy="306.02" r="2" fill="#a3173a"/>
<path d="M237.64 306.25V310.98M236.24 306.25H239.04M236.24 310.98H239.04" stroke="#222" stroke-width="0.9" fill="none"/>
<circle cx="237.64" cy="308.62" r="2" fill="#a3173a"/>
<path d="M272.95 308.38V313.10M271.55 308.38H274.35M271.55 313.10H274.35" stroke="#222" stroke-width="0.9" fill="none"/>
<circle cx="272.95" cy="310.74" r="2" fill="#a3173a"/>
<path d="M331.80 308.38V313.10M330.40 308.38H333.20M330.40 313.10H333.20" stroke="#222" stroke-width="0.9" fill="none"/>
<circle cx="331.80" cy="310.74" r="2" fill="#a3173a"/>
<rect x="212.20" y="236.80" width="3.8" height="3.8" fill="#34547c"/>
<path d="M214.69 250.51V262.32M213.29 250.51H216.09M213.29 262.32H216.09" stroke="#222" stroke-width="0.9" fill="none"/>
<rect x="212.79" y="254.52" width="3.8" height="3.8" fill="#34547c"/>
<path d="M216.45 266.45V275.90M215.05 266.45H217.85M215.05 275.90H217.85" stroke="#222" stroke-width="0.9" fill="none"/>
<rect x="214.55" y="269.28" width="3.8" height="3.8" fill="#34547c"/>
<path d="M219.98 291.85V298.93M218.58 291.85H221.38M218.58 298.93H221.38" stroke="#222" stroke-width="0.9" fill="none"/>
<rect x="218.08" y="293.49" width="3.8" height="3.8" fill="#34547c"/>
<path d="M225.87 298.34V303.06M224.47 298.34H227.27M224.47 303.06H227.27" stroke="#222" stroke-width="0.9" fill="none"/>
<rect x="223.97" y="298.80" width="3.8" height="3.8" fill="#34547c"/>
<path d="M237.64 300.94V305.66M236.24 300.94H239.04M236.24 305.66H239.04" stroke="#222" stroke-width="0.9" fill="none"/>
<rect x="235.74" y="301.40" width="3.8" height="3.8" fill="#34547c"/>
<path d="M272.95 297.75V302.47M271.55 297.75H274.35M271.55 302.47H274.35" stroke="#222" stroke-width="0.9" fill="none"/>
<rect x="271.05" y="298.21" width="3.8" height="3.8" fill="#34547c"/>
<path d="M331.80 296.57V301.29M330.40 296.57H333.20M330.40 301.29H333.20" stroke="#222" stroke-width="0.9" fill="none"/>
<rect x="329.90" y="297.03" width="3.8" height="3.8" fill="#34547c"/>
<path d="M214.10 236.70L216.10 238.70L214.10 240.70L212.10 238.70Z" fill="#80b958"/>
<path d="M214.69 280.04V291.85M213.29 280.04H216.09M213.29 291.85H216.09" stroke="#222" stroke-width="0.9" fill="none"/>
<path d="M214.69 283.94L216.69 285.94L214.69 287.94L212.69 285.94Z" fill="#80b958"/>
<path d="M216.45 292.32V304.13M215.05 292.32H217.85M215.05 304.13H217.85" stroke="#222" stroke-width="0.9" fill="none"/>
<path d="M216.45 296.22L218.45 298.22L216.45 300.22L214.45 298.22Z" fill="#80b958"/>
<path d="M219.98 300.70V307.79M218.58 300.70H221.38M218.58 307.79H221.38" stroke="#222" stroke-width="0.9" fill="none"/>
<path d="M219.98 302.25L221.98 304.25L219.98 306.25L217.98 304.25Z" fill="#80b958"/>
<path d="M225.87 300.94V305.66M224.47 300.94H227.27M224.47 305.66H227.27" stroke="#222" stroke-width="0.9" fill="none"/>
<path d="M225.87 301.30L227.87 303.30L225.87 305.30L223.87 303.30Z" fill="#80b958"/>
<path d="M237.64 303.06V307.79M236.24 303.06H239.04M236.24 307.79H239.04" stroke="#222" stroke-width="0.9" fill="none"/>
<path d="M237.64 303.43L239.64 305.43L237.64 307.43L235.64 305.43Z" fill="#80b958"/>
<path d="M272.95 306.02V317.83M271.55 306.02H274.35M271.55 317.83H274.35" stroke="#222" stroke-width="0.9" fill="none"/>
<path d="M272.95 309.92L274.95 311.92L272.95 313.92L270.95 311.92Z" fill="#80b958"/>
<path d="M331.80 310.74V315.47M330.40 310.74H333.20M330.40 315.47H333.20" stroke="#222" stroke-width="0.9" fill="none"/>
<path d="M331.80 311.10L333.80 313.10L331.80 315.10L329.80 313.10Z" fill="#80b958"/>
<path d="M214.10 236.60L216.10 240.20L212.10 240.20Z" fill="#33286a"/>
<path d="M214.69 244.61V256.42M213.29 244.61H216.09M213.29 256.42H216.09" stroke="#222" stroke-width="0.9" fill="none"/>
<path d="M214.69 248.41L216.69 252.01L212.69 252.01Z" fill="#33286a"/>
<path d="M216.45 251.93V263.74M215.05 251.93H217.85M215.05 263.74H217.85" stroke="#222" stroke-width="0.9" fill="none"/>
<path d="M216.45 255.73L218.45 259.33L214.45 259.33Z" fill="#33286a"/>
<path d="M219.98 272.00V279.09M218.58 272.00H221.38M218.58 279.09H221.38" stroke="#222" stroke-width="0.9" fill="none"/>
<path d="M219.98 273.45L221.98 277.05L217.98 277.05Z" fill="#33286a"/>
<path d="M225.87 286.29V291.02M224.47 286.29H227.27M224.47 291.02H227.27" stroke="#222" stroke-width="0.9" fill="none"/>
<path d="M225.87 286.56L227.87 290.16L223.87 290.16Z" fill="#33286a"/>
<path d="M237.64 294.33V303.77M236.24 294.33H239.04M236.24 303.77H239.04" stroke="#222" stroke-width="0.9" fill="none"/>
<path d="M237.64 296.95L239.64 300.55L235.64 300.55Z" fill="#33286a"/>
<path d="M272.95 301.29V306.02M271.55 301.29H274.35M271.55 306.02H274.35" stroke="#222" stroke-width="0.9" fill="none"/>
<path d="M272.95 301.56L274.95 305.16L270.95 305.16Z" fill="#33286a"/>
<path d="M331.80 304.84V309.56M330.40 304.84H333.20M330.40 309.56H333.20" stroke="#222" stroke-width="0.9" fill="none"/>
<path d="M331.80 305.10L333.80 308.70L329.80 308.70Z" fill="#33286a"/>
<path d="M214.10 240.80L216.10 237.20L212.10 237.20Z" fill="#e2a532"/>
<path d="M214.69 239.88V272.95M213.29 239.88H216.09M213.29 272.95H216.09" stroke="#222" stroke-width="0.9" fill="none"/>
<path d="M214.69 258.52L216.69 254.92L212.69 254.92Z" fill="#e2a532"/>
<path d="M216.45 261.14V284.76M215.05 261.14H217.85M215.05 284.76H217.85" stroke="#222" stroke-width="0.9" fill="none"/>
<path d="M216.45 275.05L218.45 271.45L214.45 271.45Z" fill="#e2a532"/>
<path d="M219.98 282.40V294.21M218.58 282.40H221.38M218.58 294.21H221.38" stroke="#222" stroke-width="0.9" fill="none"/>
<path d="M219.98 290.40L221.98 286.80L217.98 286.80Z" fill="#e2a532"/>
<path d="M225.87 293.03V300.11M224.47 293.03H227.27M224.47 300.11H227.27" stroke="#222" stroke-width="0.9" fill="none"/>
<path d="M225.87 298.67L227.87 295.07L223.87 295.07Z" fill="#e2a532"/>
<path d="M237.64 299.52V304.25M236.24 299.52H239.04M236.24 304.25H239.04" stroke="#222" stroke-width="0.9" fill="none"/>
<path d="M237.64 303.98L239.64 300.38L235.64 300.38Z" fill="#e2a532"/>
<path d="M272.95 302.47V307.20M271.55 302.47H274.35M271.55 307.20H274.35" stroke="#222" stroke-width="0.9" fill="none"/>
<path d="M272.95 306.94L274.95 303.34L270.95 303.34Z" fill="#e2a532"/>
<path d="M331.80 300.11V307.20M330.40 300.11H333.20M330.40 307.20H333.20" stroke="#222" stroke-width="0.9" fill="none"/>
<path d="M331.80 305.76L333.80 302.16L329.80 302.16Z" fill="#e2a532"/>
<line x1="214.1" y1="227" x2="214.1" y2="357.5" stroke="#000" stroke-width="1.35"/>
<line x1="213.4" y1="356.8" x2="343.4" y2="356.8" stroke="#000" stroke-width="1.35"/>
<line x1="210.79999999999998" y1="356.80" x2="214.1" y2="356.80" stroke="#111" stroke-width="0.9"/>
<text transform="translate(208.30 359.20) scale(1 1.15)" font-size="6" text-anchor="end" fill="#000">0</text>
<line x1="214.10" y1="356.8" x2="214.10" y2="359.8" stroke="#111" stroke-width="0.9"/>
<text transform="translate(214.50 368.60) scale(1 1.15)" font-size="6" text-anchor="middle" fill="#000">0</text>
<line x1="210.79999999999998" y1="333.18" x2="214.1" y2="333.18" stroke="#111" stroke-width="0.9"/>
<text transform="translate(208.30 335.58) scale(1 1.15)" font-size="6" text-anchor="end" fill="#000">20</text>
<line x1="237.64" y1="356.8" x2="237.64" y2="359.8" stroke="#111" stroke-width="0.9"/>
<text transform="translate(238.04 368.60) scale(1 1.15)" font-size="6" text-anchor="middle" fill="#000">20</text>
<line x1="210.79999999999998" y1="309.56" x2="214.1" y2="309.56" stroke="#111" stroke-width="0.9"/>
<text transform="translate(208.30 311.96) scale(1 1.15)" font-size="6" text-anchor="end" fill="#000">40</text>
<line x1="261.18" y1="356.8" x2="261.18" y2="359.8" stroke="#111" stroke-width="0.9"/>
<text transform="translate(261.58 368.60) scale(1 1.15)" font-size="6" text-anchor="middle" fill="#000">40</text>
<line x1="210.79999999999998" y1="285.94" x2="214.1" y2="285.94" stroke="#111" stroke-width="0.9"/>
<text transform="translate(208.30 288.34) scale(1 1.15)" font-size="6" text-anchor="end" fill="#000">60</text>
<line x1="284.72" y1="356.8" x2="284.72" y2="359.8" stroke="#111" stroke-width="0.9"/>
<text transform="translate(285.12 368.60) scale(1 1.15)" font-size="6" text-anchor="middle" fill="#000">60</text>
<line x1="210.79999999999998" y1="262.32" x2="214.1" y2="262.32" stroke="#111" stroke-width="0.9"/>
<text transform="translate(208.30 264.72) scale(1 1.15)" font-size="6" text-anchor="end" fill="#000">80</text>
<line x1="308.26" y1="356.8" x2="308.26" y2="359.8" stroke="#111" stroke-width="0.9"/>
<text transform="translate(308.66 368.60) scale(1 1.15)" font-size="6" text-anchor="middle" fill="#000">80</text>
<line x1="210.79999999999998" y1="238.70" x2="214.1" y2="238.70" stroke="#111" stroke-width="0.9"/>
<text transform="translate(208.30 241.10) scale(1 1.15)" font-size="6" text-anchor="end" fill="#000">100</text>
<line x1="331.80" y1="356.8" x2="331.80" y2="359.8" stroke="#111" stroke-width="0.9"/>
<text transform="translate(332.20 368.60) scale(1 1.15)" font-size="6" text-anchor="middle" fill="#000">100</text>
<text transform="translate(191.30 291.90) rotate(-90) scale(1.06 1)" font-size="7.9" text-anchor="middle" fill="#000">Viability (% control)</text>
<text transform="translate(278.75 380.40) scale(1 1.2)" font-size="8.2" text-anchor="middle" fill="#111">[Drug nM]</text>
<text transform="translate(278.85 222.60) scale(1 1.15)" font-size="9" font-weight="bold" text-anchor="middle" textLength="26.2" lengthAdjust="spacingAndGlyphs">AML2</text>
<line x1="219.8" y1="322.50" x2="233.10000000000002" y2="322.50" stroke="#a3173a" stroke-width="1.2"/>
<circle cx="226.40" cy="322.50" r="2" fill="#a3173a"/>
<text transform="translate(236.10 324.40) scale(1 1.15)" font-size="5.3" fill="#000">Gilteritinib</text>
<line x1="219.8" y1="328.70" x2="233.10000000000002" y2="328.70" stroke="#34547c" stroke-width="1.2" stroke-dasharray="1.5,1"/>
<rect x="224.50" y="326.80" width="3.8" height="3.8" fill="#34547c"/>
<text transform="translate(236.10 330.60) scale(1 1.15)" font-size="5.3" fill="#000">Crenolanib</text>
<line x1="219.8" y1="334.90" x2="233.10000000000002" y2="334.90" stroke="#80b958" stroke-width="1.2"/>
<path d="M226.40 332.90L228.40 334.90L226.40 336.90L224.40 334.90Z" fill="#80b958"/>
<text transform="translate(236.10 336.80) scale(1 1.15)" font-size="5.3" fill="#000">Quizartinib</text>
<line x1="219.8" y1="341.10" x2="233.10000000000002" y2="341.10" stroke="#33286a" stroke-width="1.2" stroke-dasharray="3,1,1,1,1,1"/>
<path d="M226.40 339.00L228.40 342.60L224.40 342.60Z" fill="#33286a"/>
<text transform="translate(236.10 343.00) scale(1 1.15)" font-size="5.3" fill="#000">Midostaurin</text>
<line x1="219.8" y1="347.30" x2="233.10000000000002" y2="347.30" stroke="#e2a532" stroke-width="1.2" stroke-dasharray="3.5,2.3"/>
<path d="M226.40 349.40L228.40 345.80L224.40 345.80Z" fill="#e2a532"/>
<text transform="translate(236.10 349.20) scale(1 1.15)" font-size="5.3" fill="#000">Sorafenib</text>
<polyline points="383.30,238.60 383.89,268.10 385.65,291.70 389.18,309.40 395.05,315.30 406.80,320.02 442.05,322.38 500.80,323.56" fill="none" stroke="#a3173a" stroke-width="1.2"/>
<polyline points="383.30,238.60 383.89,252.76 385.65,262.20 389.18,285.80 395.05,303.50 406.80,316.48 442.05,318.84 500.80,320.02" fill="none" stroke="#34547c" stroke-width="1.2" stroke-dasharray="1.5,1"/>
<polyline points="383.30,238.60 383.89,285.80 385.65,309.40 389.18,317.66 395.05,320.02 406.80,323.56 442.05,327.10 500.80,328.28" fill="none" stroke="#80b958" stroke-width="1.2"/>
<polyline points="383.30,238.60 383.89,246.86 385.65,253.94 389.18,277.54 395.05,291.70 406.80,305.86 442.05,316.48 500.80,320.02" fill="none" stroke="#33286a" stroke-width="1.2" stroke-dasharray="3,1,1,1,1,1"/>
<polyline points="383.30,238.60 383.89,252.76 385.65,264.56 389.18,285.80 395.05,303.50 406.80,314.12 442.05,316.48 500.80,317.66" fill="none" stroke="#e2a532" stroke-width="1.2" stroke-dasharray="3.5,2.3"/>
<circle cx="383.30" cy="238.60" r="2" fill="#a3173a"/>
<path d="M383.89 262.20V274.00M382.49 262.20H385.29M382.49 274.00H385.29" stroke="#222" stroke-width="0.9" fill="none"/>
<circle cx="383.89" cy="268.10" r="2" fill="#a3173a"/>
<path d="M385.65 285.80V297.60M384.25 285.80H387.05M384.25 297.60H387.05" stroke="#222" stroke-width="0.9" fill="none"/>
<circle cx="385.65" cy="291.70" r="2" fill="#a3173a"/>
<path d="M389.18 304.68V314.12M387.78 304.68H390.57M387.78 314.12H390.57" stroke="#222" stroke-width="0.9" fill="none"/>
<circle cx="389.18" cy="309.40" r="2" fill="#a3173a"/>
<path d="M395.05 310.58V320.02M393.65 310.58H396.45M393.65 320.02H396.45" stroke="#222" stroke-width="0.9" fill="none"/>
<circle cx="395.05" cy="315.30" r="2" fill="#a3173a"/>
<path d="M406.80 316.48V323.56M405.40 316.48H408.20M405.40 323.56H408.20" stroke="#222" stroke-width="0.9" fill="none"/>
<circle cx="406.80" cy="320.02" r="2" fill="#a3173a"/>
<path d="M442.05 318.84V325.92M440.65 318.84H443.45M440.65 325.92H443.45" stroke="#222" stroke-width="0.9" fill="none"/>
<circle cx="442.05" cy="322.38" r="2" fill="#a3173a"/>
<path d="M500.80 320.02V327.10M499.40 320.02H502.20M499.40 327.10H502.20" stroke="#222" stroke-width="0.9" fill="none"/>
<circle cx="500.80" cy="323.56" r="2" fill="#a3173a"/>
<rect x="381.40" y="236.70" width="3.8" height="3.8" fill="#34547c"/>
<path d="M383.89 248.04V257.48M382.49 248.04H385.29M382.49 257.48H385.29" stroke="#222" stroke-width="0.9" fill="none"/>
<rect x="381.99" y="250.86" width="3.8" height="3.8" fill="#34547c"/>
<path d="M385.65 257.48V266.92M384.25 257.48H387.05M384.25 266.92H387.05" stroke="#222" stroke-width="0.9" fill="none"/>
<rect x="383.75" y="260.30" width="3.8" height="3.8" fill="#34547c"/>
<path d="M389.18 281.08V290.52M387.78 281.08H390.57M387.78 290.52H390.57" stroke="#222" stroke-width="0.9" fill="none"/>
<rect x="387.28" y="283.90" width="3.8" height="3.8" fill="#34547c"/>
<path d="M395.05 299.96V307.04M393.65 299.96H396.45M393.65 307.04H396.45" stroke="#222" stroke-width="0.9" fill="none"/>
<rect x="393.15" y="301.60" width="3.8" height="3.8" fill="#34547c"/>
<path d="M406.80 314.12V318.84M405.40 314.12H408.20M405.40 318.84H408.20" stroke="#222" stroke-width="0.9" fill="none"/>
<rect x="404.90" y="314.58" width="3.8" height="3.8" fill="#34547c"/>
<path d="M442.05 316.48V321.20M440.65 316.48H443.45M440.65 321.20H443.45" stroke="#222" stroke-width="0.9" fill="none"/>
<rect x="440.15" y="316.94" width="3.8" height="3.8" fill="#34547c"/>
<path d="M500.80 317.66V322.38M499.40 317.66H502.20M499.40 322.38H502.20" stroke="#222" stroke-width="0.9" fill="none"/>
<rect x="498.90" y="318.12" width="3.8" height="3.8" fill="#34547c"/>
<path d="M383.30 236.60L385.30 238.60L383.30 240.60L381.30 238.60Z" fill="#80b958"/>
<path d="M383.89 276.36V295.24M382.49 276.36H385.29M382.49 295.24H385.29" stroke="#222" stroke-width="0.9" fill="none"/>
<path d="M383.89 283.80L385.89 285.80L383.89 287.80L381.89 285.80Z" fill="#80b958"/>
<path d="M385.65 299.96V318.84M384.25 299.96H387.05M384.25 318.84H387.05" stroke="#222" stroke-width="0.9" fill="none"/>
<path d="M385.65 307.40L387.65 309.40L385.65 311.40L383.65 309.40Z" fill="#80b958"/>
<path d="M389.18 311.76V323.56M387.78 311.76H390.57M387.78 323.56H390.57" stroke="#222" stroke-width="0.9" fill="none"/>
<path d="M389.18 315.66L391.18 317.66L389.18 319.66L387.18 317.66Z" fill="#80b958"/>
<path d="M395.05 314.12V325.92M393.65 314.12H396.45M393.65 325.92H396.45" stroke="#222" stroke-width="0.9" fill="none"/>
<path d="M395.05 318.02L397.05 320.02L395.05 322.02L393.05 320.02Z" fill="#80b958"/>
<path d="M406.80 318.84V328.28M405.40 318.84H408.20M405.40 328.28H408.20" stroke="#222" stroke-width="0.9" fill="none"/>
<path d="M406.80 321.56L408.80 323.56L406.80 325.56L404.80 323.56Z" fill="#80b958"/>
<path d="M442.05 322.38V331.82M440.65 322.38H443.45M440.65 331.82H443.45" stroke="#222" stroke-width="0.9" fill="none"/>
<path d="M442.05 325.10L444.05 327.10L442.05 329.10L440.05 327.10Z" fill="#80b958"/>
<path d="M500.80 323.56V333.00M499.40 323.56H502.20M499.40 333.00H502.20" stroke="#222" stroke-width="0.9" fill="none"/>
<path d="M500.80 326.28L502.80 328.28L500.80 330.28L498.80 328.28Z" fill="#80b958"/>
<path d="M383.30 236.50L385.30 240.10L381.30 240.10Z" fill="#33286a"/>
<path d="M383.89 242.14V251.58M382.49 242.14H385.29M382.49 251.58H385.29" stroke="#222" stroke-width="0.9" fill="none"/>
<path d="M383.89 244.76L385.89 248.36L381.89 248.36Z" fill="#33286a"/>
<path d="M385.65 249.22V258.66M384.25 249.22H387.05M384.25 258.66H387.05" stroke="#222" stroke-width="0.9" fill="none"/>
<path d="M385.65 251.84L387.65 255.44L383.65 255.44Z" fill="#33286a"/>
<path d="M389.18 272.82V282.26M387.78 272.82H390.57M387.78 282.26H390.57" stroke="#222" stroke-width="0.9" fill="none"/>
<path d="M389.18 275.44L391.18 279.04L387.18 279.04Z" fill="#33286a"/>
<path d="M395.05 288.16V295.24M393.65 288.16H396.45M393.65 295.24H396.45" stroke="#222" stroke-width="0.9" fill="none"/>
<path d="M395.05 289.60L397.05 293.20L393.05 293.20Z" fill="#33286a"/>
<path d="M406.80 301.14V310.58M405.40 301.14H408.20M405.40 310.58H408.20" stroke="#222" stroke-width="0.9" fill="none"/>
<path d="M406.80 303.76L408.80 307.36L404.80 307.36Z" fill="#33286a"/>
<path d="M442.05 314.12V318.84M440.65 314.12H443.45M440.65 318.84H443.45" stroke="#222" stroke-width="0.9" fill="none"/>
<path d="M442.05 314.38L444.05 317.98L440.05 317.98Z" fill="#33286a"/>
<path d="M500.80 317.66V322.38M499.40 317.66H502.20M499.40 322.38H502.20" stroke="#222" stroke-width="0.9" fill="none"/>
<path d="M500.80 317.92L502.80 321.52L498.80 321.52Z" fill="#33286a"/>
<path d="M383.30 240.70L385.30 237.10L381.30 237.10Z" fill="#e2a532"/>
<path d="M383.89 246.86V258.66M382.49 246.86H385.29M382.49 258.66H385.29" stroke="#222" stroke-width="0.9" fill="none"/>
<path d="M383.89 254.86L385.89 251.26L381.89 251.26Z" fill="#e2a532"/>
<path d="M385.65 258.66V270.46M384.25 258.66H387.05M384.25 270.46H387.05" stroke="#222" stroke-width="0.9" fill="none"/>
<path d="M385.65 266.66L387.65 263.06L383.65 263.06Z" fill="#e2a532"/>
<path d="M389.18 281.08V290.52M387.78 281.08H390.57M387.78 290.52H390.57" stroke="#222" stroke-width="0.9" fill="none"/>
<path d="M389.18 287.90L391.18 284.30L387.18 284.30Z" fill="#e2a532"/>
<path d="M395.05 299.96V307.04M393.65 299.96H396.45M393.65 307.04H396.45" stroke="#222" stroke-width="0.9" fill="none"/>
<path d="M395.05 305.60L397.05 302.00L393.05 302.00Z" fill="#e2a532"/>
<path d="M406.80 311.76V316.48M405.40 311.76H408.20M405.40 316.48H408.20" stroke="#222" stroke-width="0.9" fill="none"/>
<path d="M406.80 316.22L408.80 312.62L404.80 312.62Z" fill="#e2a532"/>
<path d="M442.05 314.12V318.84M440.65 314.12H443.45M440.65 318.84H443.45" stroke="#222" stroke-width="0.9" fill="none"/>
<path d="M442.05 318.58L444.05 314.98L440.05 314.98Z" fill="#e2a532"/>
<path d="M500.80 315.30V320.02M499.40 315.30H502.20M499.40 320.02H502.20" stroke="#222" stroke-width="0.9" fill="none"/>
<path d="M500.80 319.76L502.80 316.16L498.80 316.16Z" fill="#e2a532"/>
<line x1="383.3" y1="226.3" x2="383.3" y2="357.3" stroke="#000" stroke-width="1.35"/>
<line x1="382.6" y1="356.6" x2="512.5" y2="356.6" stroke="#000" stroke-width="1.35"/>
<line x1="380.0" y1="356.60" x2="383.3" y2="356.60" stroke="#111" stroke-width="0.9"/>
<text transform="translate(377.50 359.00) scale(1 1.15)" font-size="6" text-anchor="end" fill="#000">0</text>
<line x1="383.30" y1="356.6" x2="383.30" y2="359.6" stroke="#111" stroke-width="0.9"/>
<text transform="translate(383.70 368.40) scale(1 1.15)" font-size="6" text-anchor="middle" fill="#000">0</text>
<line x1="380.0" y1="333.00" x2="383.3" y2="333.00" stroke="#111" stroke-width="0.9"/>
<text transform="translate(377.50 335.40) scale(1 1.15)" font-size="6" text-anchor="end" fill="#000">20</text>
<line x1="406.80" y1="356.6" x2="406.80" y2="359.6" stroke="#111" stroke-width="0.9"/>
<text transform="translate(407.20 368.40) scale(1 1.15)" font-size="6" text-anchor="middle" fill="#000">20</text>
<line x1="380.0" y1="309.40" x2="383.3" y2="309.40" stroke="#111" stroke-width="0.9"/>
<text transform="translate(377.50 311.80) scale(1 1.15)" font-size="6" text-anchor="end" fill="#000">40</text>
<line x1="430.30" y1="356.6" x2="430.30" y2="359.6" stroke="#111" stroke-width="0.9"/>
<text transform="translate(430.70 368.40) scale(1 1.15)" font-size="6" text-anchor="middle" fill="#000">40</text>
<line x1="380.0" y1="285.80" x2="383.3" y2="285.80" stroke="#111" stroke-width="0.9"/>
<text transform="translate(377.50 288.20) scale(1 1.15)" font-size="6" text-anchor="end" fill="#000">60</text>
<line x1="453.80" y1="356.6" x2="453.80" y2="359.6" stroke="#111" stroke-width="0.9"/>
<text transform="translate(454.20 368.40) scale(1 1.15)" font-size="6" text-anchor="middle" fill="#000">60</text>
<line x1="380.0" y1="262.20" x2="383.3" y2="262.20" stroke="#111" stroke-width="0.9"/>
<text transform="translate(377.50 264.60) scale(1 1.15)" font-size="6" text-anchor="end" fill="#000">80</text>
<line x1="477.30" y1="356.6" x2="477.30" y2="359.6" stroke="#111" stroke-width="0.9"/>
<text transform="translate(477.70 368.40) scale(1 1.15)" font-size="6" text-anchor="middle" fill="#000">80</text>
<line x1="380.0" y1="238.60" x2="383.3" y2="238.60" stroke="#111" stroke-width="0.9"/>
<text transform="translate(377.50 241.00) scale(1 1.15)" font-size="6" text-anchor="end" fill="#000">100</text>
<line x1="500.80" y1="356.6" x2="500.80" y2="359.6" stroke="#111" stroke-width="0.9"/>
<text transform="translate(501.20 368.40) scale(1 1.15)" font-size="6" text-anchor="middle" fill="#000">100</text>
<text transform="translate(360.50 291.45) rotate(-90) scale(1.06 1)" font-size="7.9" text-anchor="middle" fill="#000">Viability (% control)</text>
<text transform="translate(447.90 380.20) scale(1 1.2)" font-size="8.2" text-anchor="middle" fill="#111">[Drug nM]</text>
<text transform="translate(447.90 222.60) scale(1 1.15)" font-size="9" font-weight="bold" text-anchor="middle" textLength="26.3" lengthAdjust="spacingAndGlyphs">AML3</text>
<line x1="448.1" y1="230.75" x2="461.40000000000003" y2="230.75" stroke="#a3173a" stroke-width="1.2"/>
<circle cx="454.70" cy="230.75" r="2" fill="#a3173a"/>
<text transform="translate(464.40 232.65) scale(1 1.15)" font-size="5.3" fill="#000">Gilteritinib</text>
<line x1="448.1" y1="236.95" x2="461.40000000000003" y2="236.95" stroke="#34547c" stroke-width="1.2" stroke-dasharray="1.5,1"/>
<rect x="452.80" y="235.05" width="3.8" height="3.8" fill="#34547c"/>
<text transform="translate(464.40 238.85) scale(1 1.15)" font-size="5.3" fill="#000">Crenolanib</text>
<line x1="448.1" y1="243.15" x2="461.40000000000003" y2="243.15" stroke="#80b958" stroke-width="1.2"/>
<path d="M454.70 241.15L456.70 243.15L454.70 245.15L452.70 243.15Z" fill="#80b958"/>
<text transform="translate(464.40 245.05) scale(1 1.15)" font-size="5.3" fill="#000">Quizartinib</text>
<line x1="448.1" y1="249.35" x2="461.40000000000003" y2="249.35" stroke="#33286a" stroke-width="1.2" stroke-dasharray="3,1,1,1,1,1"/>
<path d="M454.70 247.25L456.70 250.85L452.70 250.85Z" fill="#33286a"/>
<text transform="translate(464.40 251.25) scale(1 1.15)" font-size="5.3" fill="#000">Midostaurin</text>
<line x1="448.1" y1="255.55" x2="461.40000000000003" y2="255.55" stroke="#e2a532" stroke-width="1.2" stroke-dasharray="3.5,2.3"/>
<path d="M454.70 257.65L456.70 254.05L452.70 254.05Z" fill="#e2a532"/>
<text transform="translate(464.40 257.45) scale(1 1.15)" font-size="5.3" fill="#000">Sorafenib</text>
<polyline points="48.80,423.75 49.39,435.62 51.14,445.12 54.66,461.75 60.52,465.31 72.24,468.88 107.40,477.19 166.00,478.38" fill="none" stroke="#a3173a" stroke-width="1.2"/>
<polyline points="48.80,423.75 49.39,432.06 51.14,438.00 54.66,455.81 60.52,464.12 72.24,472.44 107.40,473.62 166.00,478.38" fill="none" stroke="#34547c" stroke-width="1.2" stroke-dasharray="1.5,1"/>
<polyline points="48.80,423.75 49.39,430.88 51.14,435.62 54.66,439.19 60.52,442.75 72.24,445.12 107.40,451.06 166.00,451.06" fill="none" stroke="#33286a" stroke-width="1.2" stroke-dasharray="3,1,1,1,1,1"/>
<polyline points="48.80,423.75 49.39,426.12 51.14,427.31 54.66,429.69 60.52,432.06 72.24,434.44 107.40,434.44 166.00,448.69" fill="none" stroke="#80b958" stroke-width="1.2"/>
<polyline points="48.80,423.75 49.39,426.12 51.14,427.31 54.66,432.06 60.52,433.25 72.24,434.44 107.40,430.28 166.00,428.50" fill="none" stroke="#e2a532" stroke-width="1.2" stroke-dasharray="3.5,2.3"/>
<circle cx="48.80" cy="423.75" r="2" fill="#a3173a"/>
<path d="M49.39 433.25V438.00M47.99 433.25H50.79M47.99 438.00H50.79" stroke="#222" stroke-width="0.9" fill="none"/>
<circle cx="49.39" cy="435.62" r="2" fill="#a3173a"/>
<path d="M51.14 442.75V447.50M49.74 442.75H52.54M49.74 447.50H52.54" stroke="#222" stroke-width="0.9" fill="none"/>
<circle cx="51.14" cy="445.12" r="2" fill="#a3173a"/>
<path d="M54.66 460.56V462.94M53.26 460.56H56.06M53.26 462.94H56.06" stroke="#222" stroke-width="0.9" fill="none"/>
<circle cx="54.66" cy="461.75" r="2" fill="#a3173a"/>
<path d="M60.52 464.12V466.50M59.12 464.12H61.92M59.12 466.50H61.92" stroke="#222" stroke-width="0.9" fill="none"/>
<circle cx="60.52" cy="465.31" r="2" fill="#a3173a"/>
<path d="M72.24 467.69V470.06M70.84 467.69H73.64M70.84 470.06H73.64" stroke="#222" stroke-width="0.9" fill="none"/>
<circle cx="72.24" cy="468.88" r="2" fill="#a3173a"/>
<path d="M107.40 476.00V478.38M106.00 476.00H108.80M106.00 478.38H108.80" stroke="#222" stroke-width="0.9" fill="none"/>
<circle cx="107.40" cy="477.19" r="2" fill="#a3173a"/>
<path d="M166.00 477.19V479.56M164.60 477.19H167.40M164.60 479.56H167.40" stroke="#222" stroke-width="0.9" fill="none"/>
<circle cx="166.00" cy="478.38" r="2" fill="#a3173a"/>
<rect x="46.90" y="421.85" width="3.8" height="3.8" fill="#34547c"/>
<path d="M49.39 429.69V434.44M47.99 429.69H50.79M47.99 434.44H50.79" stroke="#222" stroke-width="0.9" fill="none"/>
<rect x="47.49" y="430.16" width="3.8" height="3.8" fill="#34547c"/>
<path d="M51.14 435.62V440.38M49.74 435.62H52.54M49.74 440.38H52.54" stroke="#222" stroke-width="0.9" fill="none"/>
<rect x="49.24" y="436.10" width="3.8" height="3.8" fill="#34547c"/>
<path d="M54.66 453.44V458.19M53.26 453.44H56.06M53.26 458.19H56.06" stroke="#222" stroke-width="0.9" fill="none"/>
<rect x="52.76" y="453.91" width="3.8" height="3.8" fill="#34547c"/>
<path d="M60.52 461.75V466.50M59.12 461.75H61.92M59.12 466.50H61.92" stroke="#222" stroke-width="0.9" fill="none"/>
<rect x="58.62" y="462.23" width="3.8" height="3.8" fill="#34547c"/>
<path d="M72.24 470.06V474.81M70.84 470.06H73.64M70.84 474.81H73.64" stroke="#222" stroke-width="0.9" fill="none"/>
<rect x="70.34" y="470.54" width="3.8" height="3.8" fill="#34547c"/>
<path d="M107.40 472.44V474.81M106.00 472.44H108.80M106.00 474.81H108.80" stroke="#222" stroke-width="0.9" fill="none"/>
<rect x="105.50" y="471.73" width="3.8" height="3.8" fill="#34547c"/>
<path d="M166.00 477.19V479.56M164.60 477.19H167.40M164.60 479.56H167.40" stroke="#222" stroke-width="0.9" fill="none"/>
<rect x="164.10" y="476.48" width="3.8" height="3.8" fill="#34547c"/>
<path d="M48.80 421.65L50.80 425.25L46.80 425.25Z" fill="#33286a"/>
<path d="M49.39 428.50V433.25M47.99 428.50H50.79M47.99 433.25H50.79" stroke="#222" stroke-width="0.9" fill="none"/>
<path d="M49.39 428.77L51.39 432.38L47.39 432.38Z" fill="#33286a"/>
<path d="M51.14 433.25V438.00M49.74 433.25H52.54M49.74 438.00H52.54" stroke="#222" stroke-width="0.9" fill="none"/>
<path d="M51.14 433.52L53.14 437.12L49.14 437.12Z" fill="#33286a"/>
<path d="M54.66 436.81V441.56M53.26 436.81H56.06M53.26 441.56H56.06" stroke="#222" stroke-width="0.9" fill="none"/>
<path d="M54.66 437.09L56.66 440.69L52.66 440.69Z" fill="#33286a"/>
<path d="M60.52 441.56V443.94M59.12 441.56H61.92M59.12 443.94H61.92" stroke="#222" stroke-width="0.9" fill="none"/>
<path d="M60.52 440.65L62.52 444.25L58.52 444.25Z" fill="#33286a"/>
<path d="M72.24 443.94V446.31M70.84 443.94H73.64M70.84 446.31H73.64" stroke="#222" stroke-width="0.9" fill="none"/>
<path d="M72.24 443.02L74.24 446.62L70.24 446.62Z" fill="#33286a"/>
<path d="M107.40 449.88V452.25M106.00 449.88H108.80M106.00 452.25H108.80" stroke="#222" stroke-width="0.9" fill="none"/>
<path d="M107.40 448.96L109.40 452.56L105.40 452.56Z" fill="#33286a"/>
<path d="M166.00 448.69V453.44M164.60 448.69H167.40M164.60 453.44H167.40" stroke="#222" stroke-width="0.9" fill="none"/>
<path d="M166.00 448.96L168.00 452.56L164.00 452.56Z" fill="#33286a"/>
<path d="M48.80 421.75L50.80 423.75L48.80 425.75L46.80 423.75Z" fill="#80b958"/>
<path d="M49.39 423.75V428.50M47.99 423.75H50.79M47.99 428.50H50.79" stroke="#222" stroke-width="0.9" fill="none"/>
<path d="M49.39 424.12L51.39 426.12L49.39 428.12L47.39 426.12Z" fill="#80b958"/>
<path d="M51.14 424.94V429.69M49.74 424.94H52.54M49.74 429.69H52.54" stroke="#222" stroke-width="0.9" fill="none"/>
<path d="M51.14 425.31L53.14 427.31L51.14 429.31L49.14 427.31Z" fill="#80b958"/>
<path d="M54.66 427.31V432.06M53.26 427.31H56.06M53.26 432.06H56.06" stroke="#222" stroke-width="0.9" fill="none"/>
<path d="M54.66 427.69L56.66 429.69L54.66 431.69L52.66 429.69Z" fill="#80b958"/>
<path d="M60.52 429.69V434.44M59.12 429.69H61.92M59.12 434.44H61.92" stroke="#222" stroke-width="0.9" fill="none"/>
<path d="M60.52 430.06L62.52 432.06L60.52 434.06L58.52 432.06Z" fill="#80b958"/>
<path d="M72.24 432.06V436.81M70.84 432.06H73.64M70.84 436.81H73.64" stroke="#222" stroke-width="0.9" fill="none"/>
<path d="M72.24 432.44L74.24 434.44L72.24 436.44L70.24 434.44Z" fill="#80b958"/>
<path d="M107.40 433.25V435.62M106.00 433.25H108.80M106.00 435.62H108.80" stroke="#222" stroke-width="0.9" fill="none"/>
<path d="M107.40 432.44L109.40 434.44L107.40 436.44L105.40 434.44Z" fill="#80b958"/>
<path d="M166.00 446.31V451.06M164.60 446.31H167.40M164.60 451.06H167.40" stroke="#222" stroke-width="0.9" fill="none"/>
<path d="M166.00 446.69L168.00 448.69L166.00 450.69L164.00 448.69Z" fill="#80b958"/>
<path d="M48.80 425.85L50.80 422.25L46.80 422.25Z" fill="#e2a532"/>
<path d="M49.39 423.75V428.50M47.99 423.75H50.79M47.99 428.50H50.79" stroke="#222" stroke-width="0.9" fill="none"/>
<path d="M49.39 428.23L51.39 424.62L47.39 424.62Z" fill="#e2a532"/>
<path d="M51.14 424.94V429.69M49.74 424.94H52.54M49.74 429.69H52.54" stroke="#222" stroke-width="0.9" fill="none"/>
<path d="M51.14 429.41L53.14 425.81L49.14 425.81Z" fill="#e2a532"/>
<path d="M54.66 429.69V434.44M53.26 429.69H56.06M53.26 434.44H56.06" stroke="#222" stroke-width="0.9" fill="none"/>
<path d="M54.66 434.16L56.66 430.56L52.66 430.56Z" fill="#e2a532"/>
<path d="M60.52 429.69V436.81M59.12 429.69H61.92M59.12 436.81H61.92" stroke="#222" stroke-width="0.9" fill="none"/>
<path d="M60.52 435.35L62.52 431.75L58.52 431.75Z" fill="#e2a532"/>
<path d="M72.24 432.06V436.81M70.84 432.06H73.64M70.84 436.81H73.64" stroke="#222" stroke-width="0.9" fill="none"/>
<path d="M72.24 436.54L74.24 432.94L70.24 432.94Z" fill="#e2a532"/>
<path d="M107.40 429.09V431.47M106.00 429.09H108.80M106.00 431.47H108.80" stroke="#222" stroke-width="0.9" fill="none"/>
<path d="M107.40 432.38L109.40 428.78L105.40 428.78Z" fill="#e2a532"/>
<path d="M166.00 426.12V430.88M164.60 426.12H167.40M164.60 430.88H167.40" stroke="#222" stroke-width="0.9" fill="none"/>
<path d="M166.00 430.60L168.00 427.00L164.00 427.00Z" fill="#e2a532"/>
<line x1="48.8" y1="412" x2="48.8" y2="543.2" stroke="#000" stroke-width="1.35"/>
<line x1="48.099999999999994" y1="542.5" x2="178" y2="542.5" stroke="#000" stroke-width="1.35"/>
<line x1="45.5" y1="542.50" x2="48.8" y2="542.50" stroke="#111" stroke-width="0.9"/>
<text transform="translate(43.00 544.90) scale(1 1.15)" font-size="6" text-anchor="end" fill="#000">0</text>
<line x1="48.80" y1="542.5" x2="48.80" y2="545.5" stroke="#111" stroke-width="0.9"/>
<text transform="translate(49.20 554.30) scale(1 1.15)" font-size="6" text-anchor="middle" fill="#000">0</text>
<line x1="45.5" y1="518.75" x2="48.8" y2="518.75" stroke="#111" stroke-width="0.9"/>
<text transform="translate(43.00 521.15) scale(1 1.15)" font-size="6" text-anchor="end" fill="#000">20</text>
<line x1="72.24" y1="542.5" x2="72.24" y2="545.5" stroke="#111" stroke-width="0.9"/>
<text transform="translate(72.64 554.30) scale(1 1.15)" font-size="6" text-anchor="middle" fill="#000">20</text>
<line x1="45.5" y1="495.00" x2="48.8" y2="495.00" stroke="#111" stroke-width="0.9"/>
<text transform="translate(43.00 497.40) scale(1 1.15)" font-size="6" text-anchor="end" fill="#000">40</text>
<line x1="95.68" y1="542.5" x2="95.68" y2="545.5" stroke="#111" stroke-width="0.9"/>
<text transform="translate(96.08 554.30) scale(1 1.15)" font-size="6" text-anchor="middle" fill="#000">40</text>
<line x1="45.5" y1="471.25" x2="48.8" y2="471.25" stroke="#111" stroke-width="0.9"/>
<text transform="translate(43.00 473.65) scale(1 1.15)" font-size="6" text-anchor="end" fill="#000">60</text>
<line x1="119.12" y1="542.5" x2="119.12" y2="545.5" stroke="#111" stroke-width="0.9"/>
<text transform="translate(119.52 554.30) scale(1 1.15)" font-size="6" text-anchor="middle" fill="#000">60</text>
<line x1="45.5" y1="447.50" x2="48.8" y2="447.50" stroke="#111" stroke-width="0.9"/>
<text transform="translate(43.00 449.90) scale(1 1.15)" font-size="6" text-anchor="end" fill="#000">80</text>
<line x1="142.56" y1="542.5" x2="142.56" y2="545.5" stroke="#111" stroke-width="0.9"/>
<text transform="translate(142.96 554.30) scale(1 1.15)" font-size="6" text-anchor="middle" fill="#000">80</text>
<line x1="45.5" y1="423.75" x2="48.8" y2="423.75" stroke="#111" stroke-width="0.9"/>
<text transform="translate(43.00 426.15) scale(1 1.15)" font-size="6" text-anchor="end" fill="#000">100</text>
<line x1="166.00" y1="542.5" x2="166.00" y2="545.5" stroke="#111" stroke-width="0.9"/>
<text transform="translate(166.40 554.30) scale(1 1.15)" font-size="6" text-anchor="middle" fill="#000">100</text>
<text transform="translate(26.00 477.25) rotate(-90) scale(1.06 1)" font-size="7.9" text-anchor="middle" fill="#000">Viability (% control)</text>
<text transform="translate(113.40 566.10) scale(1 1.2)" font-size="8.2" text-anchor="middle" fill="#111">[Drug nM]</text>
<text transform="translate(113.90 407.00) scale(1 1.15)" font-size="9" font-weight="bold" text-anchor="middle" textLength="26.3" lengthAdjust="spacingAndGlyphs">AML4</text>
<line x1="54.9" y1="508.00" x2="68.2" y2="508.00" stroke="#a3173a" stroke-width="1.2"/>
<circle cx="61.50" cy="508.00" r="2" fill="#a3173a"/>
<text transform="translate(71.20 509.90) scale(1 1.15)" font-size="5.3" fill="#000">Gilteritinib</text>
<line x1="54.9" y1="514.20" x2="68.2" y2="514.20" stroke="#34547c" stroke-width="1.2" stroke-dasharray="1.5,1"/>
<rect x="59.60" y="512.30" width="3.8" height="3.8" fill="#34547c"/>
<text transform="translate(71.20 516.10) scale(1 1.15)" font-size="5.3" fill="#000">Crenolanib</text>
<line x1="54.9" y1="520.40" x2="68.2" y2="520.40" stroke="#80b958" stroke-width="1.2"/>
<path d="M61.50 518.40L63.50 520.40L61.50 522.40L59.50 520.40Z" fill="#80b958"/>
<text transform="translate(71.20 522.30) scale(1 1.15)" font-size="5.3" fill="#000">Quizartinib</text>
<line x1="54.9" y1="526.60" x2="68.2" y2="526.60" stroke="#33286a" stroke-width="1.2" stroke-dasharray="3,1,1,1,1,1"/>
<path d="M61.50 524.50L63.50 528.10L59.50 528.10Z" fill="#33286a"/>
<text transform="translate(71.20 528.50) scale(1 1.15)" font-size="5.3" fill="#000">Midostaurin</text>
<line x1="54.9" y1="532.80" x2="68.2" y2="532.80" stroke="#e2a532" stroke-width="1.2" stroke-dasharray="3.5,2.3"/>
<path d="M61.50 534.90L63.50 531.30L59.50 531.30Z" fill="#e2a532"/>
<text transform="translate(71.20 534.70) scale(1 1.15)" font-size="5.3" fill="#000">Sorafenib</text>
<rect x="252.5" y="435" width="84.5" height="13.5" fill="#a8a8a8"/>
<rect x="265.5" y="435" width="17" height="13.5" fill="#b6b6b6"/>
<rect x="253.5" y="436.2" width="11" height="6" fill="#222" opacity="0.6" filter="url(#bl2)"/>
<rect x="253.4" y="443.4" width="11.2" height="3.2" rx="1" fill="#000" opacity="1.0" filter="url(#bl)"/>
<rect x="266.5" y="436.2" width="15" height="6" fill="#222" opacity="0.15" filter="url(#bl2)"/>
<rect x="283.5" y="436.2" width="12" height="6" fill="#222" opacity="0.55" filter="url(#bl2)"/>
<rect x="283.4" y="443.4" width="12.2" height="3.2" rx="1" fill="#000" opacity="1.0" filter="url(#bl)"/>
<rect x="297.5" y="436.2" width="11" height="6" fill="#222" opacity="0.5" filter="url(#bl2)"/>
<rect x="297.4" y="443.4" width="11.2" height="3.2" rx="1" fill="#000" opacity="0.2" filter="url(#bl)"/>
<rect x="310.5" y="436.2" width="11" height="6" fill="#222" opacity="0.5" filter="url(#bl2)"/>
<rect x="310.4" y="443.4" width="11.2" height="3.2" rx="1" fill="#000" opacity="1.0" filter="url(#bl)"/>
<rect x="324.0" y="436.2" width="11.5" height="6" fill="#222" opacity="0.45" filter="url(#bl2)"/>
<rect x="323.9" y="443.4" width="11.7" height="3.2" rx="1" fill="#000" opacity="0.75" filter="url(#bl)"/>
<rect x="254.5" y="435.5" width="2" height="6" fill="#111" opacity="0.6" filter="url(#bl)"/>
<text x="249" y="444.2" font-size="6" text-anchor="end" fill="#000" stroke="#000" stroke-width="0.12">pFLT3</text>
<text x="274.4" y="430.6" font-size="5.3" fill="#000" stroke="#000" stroke-width="0.12">FLT3 TKI (20nM)</text>
<text x="259.7" y="453.2" font-size="5.2" text-anchor="middle" fill="#000" stroke="#000" stroke-width="0.15">Control</text>
<text x="274.4" y="453.2" font-size="5.2" text-anchor="middle" fill="#000" stroke="#000" stroke-width="0.15">G</text>
<text x="288.2" y="453.2" font-size="5.2" text-anchor="middle" fill="#000" stroke="#000" stroke-width="0.15">Q</text>
<text x="300.8" y="453.2" font-size="5.2" text-anchor="middle" fill="#000" stroke="#000" stroke-width="0.15">C</text>
<text x="316.9" y="453.2" font-size="5.2" text-anchor="middle" fill="#000" stroke="#000" stroke-width="0.15">S</text>
<text x="330" y="453.2" font-size="5.2" text-anchor="middle" fill="#000" stroke="#000" stroke-width="0.15">M</text>
<polyline points="213.80,423.25 214.39,450.33 216.15,457.40 219.68,470.82 225.55,481.42 237.30,495.67 272.55,505.68 331.30,505.68" fill="none" stroke="#a3173a" stroke-width="1.2"/>
<polyline points="213.80,423.25 214.39,429.14 216.15,432.67 219.68,439.74 225.55,452.69 237.30,459.75 272.55,482.12 331.30,502.14" fill="none" stroke="#34547c" stroke-width="1.2" stroke-dasharray="1.5,1"/>
<polyline points="213.80,423.25 214.39,427.96 216.15,431.49 219.68,437.38 225.55,447.98 237.30,457.40 272.55,472.70 331.30,488.01" fill="none" stroke="#80b958" stroke-width="1.2"/>
<polyline points="213.80,423.25 214.39,429.14 216.15,432.67 219.68,440.91 225.55,450.33 237.30,459.75 272.55,470.35 331.30,480.95" fill="none" stroke="#33286a" stroke-width="1.2" stroke-dasharray="3,1,1,1,1,1"/>
<polyline points="213.80,423.25 214.39,423.84 216.15,424.43 219.68,423.84 225.55,422.19 237.30,421.72 272.55,419.72 331.30,419.72" fill="none" stroke="#e2a532" stroke-width="1.2" stroke-dasharray="3.5,2.3"/>
<circle cx="213.80" cy="423.25" r="2" fill="#a3173a"/>
<path d="M214.39 445.62V455.04M212.99 445.62H215.79M212.99 455.04H215.79" stroke="#222" stroke-width="0.9" fill="none"/>
<circle cx="214.39" cy="450.33" r="2" fill="#a3173a"/>
<path d="M216.15 452.69V462.11M214.75 452.69H217.55M214.75 462.11H217.55" stroke="#222" stroke-width="0.9" fill="none"/>
<circle cx="216.15" cy="457.40" r="2" fill="#a3173a"/>
<path d="M219.68 467.29V474.35M218.28 467.29H221.08M218.28 474.35H221.08" stroke="#222" stroke-width="0.9" fill="none"/>
<circle cx="219.68" cy="470.82" r="2" fill="#a3173a"/>
<path d="M225.55 477.89V484.95M224.15 477.89H226.95M224.15 484.95H226.95" stroke="#222" stroke-width="0.9" fill="none"/>
<circle cx="225.55" cy="481.42" r="2" fill="#a3173a"/>
<path d="M237.30 490.96V500.38M235.90 490.96H238.70M235.90 500.38H238.70" stroke="#222" stroke-width="0.9" fill="none"/>
<circle cx="237.30" cy="495.67" r="2" fill="#a3173a"/>
<path d="M272.55 499.79V511.56M271.15 499.79H273.95M271.15 511.56H273.95" stroke="#222" stroke-width="0.9" fill="none"/>
<circle cx="272.55" cy="505.68" r="2" fill="#a3173a"/>
<path d="M331.30 500.97V510.38M329.90 500.97H332.70M329.90 510.38H332.70" stroke="#222" stroke-width="0.9" fill="none"/>
<circle cx="331.30" cy="505.68" r="2" fill="#a3173a"/>
<rect x="211.90" y="421.35" width="3.8" height="3.8" fill="#34547c"/>
<path d="M214.39 425.61V432.67M212.99 425.61H215.79M212.99 432.67H215.79" stroke="#222" stroke-width="0.9" fill="none"/>
<rect x="212.49" y="427.24" width="3.8" height="3.8" fill="#34547c"/>
<path d="M216.15 429.14V436.20M214.75 429.14H217.55M214.75 436.20H217.55" stroke="#222" stroke-width="0.9" fill="none"/>
<rect x="214.25" y="430.77" width="3.8" height="3.8" fill="#34547c"/>
<path d="M219.68 436.20V443.27M218.28 436.20H221.08M218.28 443.27H221.08" stroke="#222" stroke-width="0.9" fill="none"/>
<rect x="217.78" y="437.84" width="3.8" height="3.8" fill="#34547c"/>
<path d="M225.55 447.98V457.40M224.15 447.98H226.95M224.15 457.40H226.95" stroke="#222" stroke-width="0.9" fill="none"/>
<rect x="223.65" y="450.79" width="3.8" height="3.8" fill="#34547c"/>
<path d="M237.30 453.87V465.64M235.90 453.87H238.70M235.90 465.64H238.70" stroke="#222" stroke-width="0.9" fill="none"/>
<rect x="235.40" y="457.85" width="3.8" height="3.8" fill="#34547c"/>
<path d="M272.55 476.24V488.01M271.15 476.24H273.95M271.15 488.01H273.95" stroke="#222" stroke-width="0.9" fill="none"/>
<rect x="270.65" y="480.23" width="3.8" height="3.8" fill="#34547c"/>
<path d="M331.30 497.43V506.85M329.90 497.43H332.70M329.90 506.85H332.70" stroke="#222" stroke-width="0.9" fill="none"/>
<rect x="329.40" y="500.24" width="3.8" height="3.8" fill="#34547c"/>
<path d="M213.80 421.25L215.80 423.25L213.80 425.25L211.80 423.25Z" fill="#80b958"/>
<path d="M214.39 424.43V431.49M212.99 424.43H215.79M212.99 431.49H215.79" stroke="#222" stroke-width="0.9" fill="none"/>
<path d="M214.39 425.96L216.39 427.96L214.39 429.96L212.39 427.96Z" fill="#80b958"/>
<path d="M216.15 427.96V435.02M214.75 427.96H217.55M214.75 435.02H217.55" stroke="#222" stroke-width="0.9" fill="none"/>
<path d="M216.15 429.49L218.15 431.49L216.15 433.49L214.15 431.49Z" fill="#80b958"/>
<path d="M219.68 433.85V440.91M218.28 433.85H221.08M218.28 440.91H221.08" stroke="#222" stroke-width="0.9" fill="none"/>
<path d="M219.68 435.38L221.68 437.38L219.68 439.38L217.68 437.38Z" fill="#80b958"/>
<path d="M225.55 444.44V451.51M224.15 444.44H226.95M224.15 451.51H226.95" stroke="#222" stroke-width="0.9" fill="none"/>
<path d="M225.55 445.98L227.55 447.98L225.55 449.98L223.55 447.98Z" fill="#80b958"/>
<path d="M237.30 453.87V460.93M235.90 453.87H238.70M235.90 460.93H238.70" stroke="#222" stroke-width="0.9" fill="none"/>
<path d="M237.30 455.40L239.30 457.40L237.30 459.40L235.30 457.40Z" fill="#80b958"/>
<path d="M272.55 469.17V476.24M271.15 469.17H273.95M271.15 476.24H273.95" stroke="#222" stroke-width="0.9" fill="none"/>
<path d="M272.55 470.70L274.55 472.70L272.55 474.70L270.55 472.70Z" fill="#80b958"/>
<path d="M331.30 484.48V491.55M329.90 484.48H332.70M329.90 491.55H332.70" stroke="#222" stroke-width="0.9" fill="none"/>
<path d="M331.30 486.01L333.30 488.01L331.30 490.01L329.30 488.01Z" fill="#80b958"/>
<path d="M213.80 421.15L215.80 424.75L211.80 424.75Z" fill="#33286a"/>
<path d="M214.39 425.61V432.67M212.99 425.61H215.79M212.99 432.67H215.79" stroke="#222" stroke-width="0.9" fill="none"/>
<path d="M214.39 427.04L216.39 430.64L212.39 430.64Z" fill="#33286a"/>
<path d="M216.15 429.14V436.20M214.75 429.14H217.55M214.75 436.20H217.55" stroke="#222" stroke-width="0.9" fill="none"/>
<path d="M216.15 430.57L218.15 434.17L214.15 434.17Z" fill="#33286a"/>
<path d="M219.68 437.38V444.44M218.28 437.38H221.08M218.28 444.44H221.08" stroke="#222" stroke-width="0.9" fill="none"/>
<path d="M219.68 438.81L221.68 442.41L217.68 442.41Z" fill="#33286a"/>
<path d="M225.55 446.80V453.87M224.15 446.80H226.95M224.15 453.87H226.95" stroke="#222" stroke-width="0.9" fill="none"/>
<path d="M225.55 448.23L227.55 451.83L223.55 451.83Z" fill="#33286a"/>
<path d="M237.30 455.04V464.46M235.90 455.04H238.70M235.90 464.46H238.70" stroke="#222" stroke-width="0.9" fill="none"/>
<path d="M237.30 457.65L239.30 461.25L235.30 461.25Z" fill="#33286a"/>
<path d="M272.55 465.64V475.06M271.15 465.64H273.95M271.15 475.06H273.95" stroke="#222" stroke-width="0.9" fill="none"/>
<path d="M272.55 468.25L274.55 471.85L270.55 471.85Z" fill="#33286a"/>
<path d="M331.30 471.53V490.37M329.90 471.53H332.70M329.90 490.37H332.70" stroke="#222" stroke-width="0.9" fill="none"/>
<path d="M331.30 478.85L333.30 482.45L329.30 482.45Z" fill="#33286a"/>
<path d="M213.80 425.35L215.80 421.75L211.80 421.75Z" fill="#e2a532"/>
<path d="M214.39 419.13V428.55M212.99 419.13H215.79M212.99 428.55H215.79" stroke="#222" stroke-width="0.9" fill="none"/>
<path d="M214.39 425.94L216.39 422.34L212.39 422.34Z" fill="#e2a532"/>
<path d="M216.15 419.72V429.14M214.75 419.72H217.55M214.75 429.14H217.55" stroke="#222" stroke-width="0.9" fill="none"/>
<path d="M216.15 426.53L218.15 422.93L214.15 422.93Z" fill="#e2a532"/>
<path d="M219.68 419.13V428.55M218.28 419.13H221.08M218.28 428.55H221.08" stroke="#222" stroke-width="0.9" fill="none"/>
<path d="M219.68 425.94L221.68 422.34L217.68 422.34Z" fill="#e2a532"/>
<path d="M225.55 415.71V428.67M224.15 415.71H226.95M224.15 428.67H226.95" stroke="#222" stroke-width="0.9" fill="none"/>
<path d="M225.55 424.29L227.55 420.69L223.55 420.69Z" fill="#e2a532"/>
<path d="M237.30 409.94V433.49M235.90 409.94H238.70M235.90 433.49H238.70" stroke="#222" stroke-width="0.9" fill="none"/>
<path d="M237.30 423.82L239.30 420.22L235.30 420.22Z" fill="#e2a532"/>
<path d="M272.55 412.65V426.78M271.15 412.65H273.95M271.15 426.78H273.95" stroke="#222" stroke-width="0.9" fill="none"/>
<path d="M272.55 421.82L274.55 418.22L270.55 418.22Z" fill="#e2a532"/>
<path d="M331.30 414.42V425.02M329.90 414.42H332.70M329.90 425.02H332.70" stroke="#222" stroke-width="0.9" fill="none"/>
<path d="M331.30 421.82L333.30 418.22L329.30 418.22Z" fill="#e2a532"/>
<line x1="213.8" y1="411.2" x2="213.8" y2="541.7" stroke="#000" stroke-width="1.35"/>
<line x1="213.10000000000002" y1="541" x2="343.5" y2="541" stroke="#000" stroke-width="1.35"/>
<line x1="210.5" y1="541.00" x2="213.8" y2="541.00" stroke="#111" stroke-width="0.9"/>
<text transform="translate(208.00 543.40) scale(1 1.15)" font-size="6" text-anchor="end" fill="#000">0</text>
<line x1="213.80" y1="541" x2="213.80" y2="544" stroke="#111" stroke-width="0.9"/>
<text transform="translate(214.20 552.80) scale(1 1.15)" font-size="6" text-anchor="middle" fill="#000">0</text>
<line x1="210.5" y1="517.45" x2="213.8" y2="517.45" stroke="#111" stroke-width="0.9"/>
<text transform="translate(208.00 519.85) scale(1 1.15)" font-size="6" text-anchor="end" fill="#000">20</text>
<line x1="237.30" y1="541" x2="237.30" y2="544" stroke="#111" stroke-width="0.9"/>
<text transform="translate(237.70 552.80) scale(1 1.15)" font-size="6" text-anchor="middle" fill="#000">20</text>
<line x1="210.5" y1="493.90" x2="213.8" y2="493.90" stroke="#111" stroke-width="0.9"/>
<text transform="translate(208.00 496.30) scale(1 1.15)" font-size="6" text-anchor="end" fill="#000">40</text>
<line x1="260.80" y1="541" x2="260.80" y2="544" stroke="#111" stroke-width="0.9"/>
<text transform="translate(261.20 552.80) scale(1 1.15)" font-size="6" text-anchor="middle" fill="#000">40</text>
<line x1="210.5" y1="470.35" x2="213.8" y2="470.35" stroke="#111" stroke-width="0.9"/>
<text transform="translate(208.00 472.75) scale(1 1.15)" font-size="6" text-anchor="end" fill="#000">60</text>
<line x1="284.30" y1="541" x2="284.30" y2="544" stroke="#111" stroke-width="0.9"/>
<text transform="translate(284.70 552.80) scale(1 1.15)" font-size="6" text-anchor="middle" fill="#000">60</text>
<line x1="210.5" y1="446.80" x2="213.8" y2="446.80" stroke="#111" stroke-width="0.9"/>
<text transform="translate(208.00 449.20) scale(1 1.15)" font-size="6" text-anchor="end" fill="#000">80</text>
<line x1="307.80" y1="541" x2="307.80" y2="544" stroke="#111" stroke-width="0.9"/>
<text transform="translate(308.20 552.80) scale(1 1.15)" font-size="6" text-anchor="middle" fill="#000">80</text>
<line x1="210.5" y1="423.25" x2="213.8" y2="423.25" stroke="#111" stroke-width="0.9"/>
<text transform="translate(208.00 425.65) scale(1 1.15)" font-size="6" text-anchor="end" fill="#000">100</text>
<line x1="331.30" y1="541" x2="331.30" y2="544" stroke="#111" stroke-width="0.9"/>
<text transform="translate(331.70 552.80) scale(1 1.15)" font-size="6" text-anchor="middle" fill="#000">100</text>
<text transform="translate(191.00 476.10) rotate(-90) scale(1.06 1)" font-size="7.9" text-anchor="middle" fill="#000">Viability (% control)</text>
<text transform="translate(278.65 564.60) scale(1 1.2)" font-size="8.2" text-anchor="middle" fill="#111">[Drug nM]</text>
<text transform="translate(279.70 407.00) scale(1 1.15)" font-size="9" font-weight="bold" text-anchor="middle" textLength="110.7" lengthAdjust="spacingAndGlyphs">AML5 (Post-quizartinib)</text>
<line x1="217" y1="510.20" x2="230.3" y2="510.20" stroke="#a3173a" stroke-width="1.2"/>
<circle cx="223.60" cy="510.20" r="2" fill="#a3173a"/>
<text transform="translate(233.30 512.10) scale(1 1.15)" font-size="5.3" fill="#000">Gilteritinib (G)</text>
<line x1="217" y1="516.40" x2="230.3" y2="516.40" stroke="#34547c" stroke-width="1.2" stroke-dasharray="1.5,1"/>
<rect x="221.70" y="514.50" width="3.8" height="3.8" fill="#34547c"/>
<text transform="translate(233.30 518.30) scale(1 1.15)" font-size="5.3" fill="#000">Crenolanib (C)</text>
<line x1="217" y1="522.60" x2="230.3" y2="522.60" stroke="#80b958" stroke-width="1.2"/>
<path d="M223.60 520.60L225.60 522.60L223.60 524.60L221.60 522.60Z" fill="#80b958"/>
<text transform="translate(233.30 524.50) scale(1 1.15)" font-size="5.3" fill="#000">Quizartinib (Q)</text>
<line x1="217" y1="528.80" x2="230.3" y2="528.80" stroke="#33286a" stroke-width="1.2" stroke-dasharray="3,1,1,1,1,1"/>
<path d="M223.60 526.70L225.60 530.30L221.60 530.30Z" fill="#33286a"/>
<text transform="translate(233.30 530.70) scale(1 1.15)" font-size="5.3" fill="#000">Midostaurin (M)</text>
<line x1="217" y1="535.00" x2="230.3" y2="535.00" stroke="#e2a532" stroke-width="1.2" stroke-dasharray="3.5,2.3"/>
<path d="M223.60 537.10L225.60 533.50L221.60 533.50Z" fill="#e2a532"/>
<text transform="translate(233.30 536.90) scale(1 1.15)" font-size="5.3" fill="#000">Sorafenib (S)</text>
<polyline points="381.80,423.75 382.38,432.06 384.13,433.25 387.62,435.62 393.45,440.38 405.10,444.53 440.05,445.72 498.30,446.91" fill="none" stroke="#a3173a" stroke-width="1.2"/>
<polyline points="381.80,423.75 382.38,429.69 384.13,432.06 387.62,432.06 393.45,434.44 405.10,434.44 440.05,436.81 498.30,438.00" fill="none" stroke="#34547c" stroke-width="1.2" stroke-dasharray="1.5,1"/>
<polyline points="381.80,423.75 382.38,422.56 384.13,422.56 387.62,422.56 393.45,422.56 405.10,423.75 440.05,424.34 498.30,426.72" fill="none" stroke="#80b958" stroke-width="1.2"/>
<polyline points="381.80,423.75 382.38,427.31 384.13,428.50 387.62,429.69 393.45,429.69 405.10,429.69 440.05,431.47 498.30,429.09" fill="none" stroke="#33286a" stroke-width="1.2" stroke-dasharray="3,1,1,1,1,1"/>
<polyline points="381.80,423.75 382.38,426.12 384.13,427.31 387.62,428.50 393.45,429.69 405.10,428.50 440.05,423.75 498.30,422.56" fill="none" stroke="#e2a532" stroke-width="1.2" stroke-dasharray="3.5,2.3"/>
<circle cx="381.80" cy="423.75" r="2" fill="#a3173a"/>
<path d="M382.38 428.50V435.62M380.98 428.50H383.78M380.98 435.62H383.78" stroke="#222" stroke-width="0.9" fill="none"/>
<circle cx="382.38" cy="432.06" r="2" fill="#a3173a"/>
<path d="M384.13 429.69V436.81M382.73 429.69H385.53M382.73 436.81H385.53" stroke="#222" stroke-width="0.9" fill="none"/>
<circle cx="384.13" cy="433.25" r="2" fill="#a3173a"/>
<path d="M387.62 432.06V439.19M386.23 432.06H389.02M386.23 439.19H389.02" stroke="#222" stroke-width="0.9" fill="none"/>
<circle cx="387.62" cy="435.62" r="2" fill="#a3173a"/>
<path d="M393.45 438.00V442.75M392.05 438.00H394.85M392.05 442.75H394.85" stroke="#222" stroke-width="0.9" fill="none"/>
<circle cx="393.45" cy="440.38" r="2" fill="#a3173a"/>
<path d="M405.10 442.16V446.91M403.70 442.16H406.50M403.70 446.91H406.50" stroke="#222" stroke-width="0.9" fill="none"/>
<circle cx="405.10" cy="444.53" r="2" fill="#a3173a"/>
<path d="M440.05 443.34V448.09M438.65 443.34H441.45M438.65 448.09H441.45" stroke="#222" stroke-width="0.9" fill="none"/>
<circle cx="440.05" cy="445.72" r="2" fill="#a3173a"/>
<path d="M498.30 444.53V449.28M496.90 444.53H499.70M496.90 449.28H499.70" stroke="#222" stroke-width="0.9" fill="none"/>
<circle cx="498.30" cy="446.91" r="2" fill="#a3173a"/>
<rect x="379.90" y="421.85" width="3.8" height="3.8" fill="#34547c"/>
<path d="M382.38 424.94V434.44M380.98 424.94H383.78M380.98 434.44H383.78" stroke="#222" stroke-width="0.9" fill="none"/>
<rect x="380.48" y="427.79" width="3.8" height="3.8" fill="#34547c"/>
<path d="M384.13 428.50V435.62M382.73 428.50H385.53M382.73 435.62H385.53" stroke="#222" stroke-width="0.9" fill="none"/>
<rect x="382.23" y="430.16" width="3.8" height="3.8" fill="#34547c"/>
<path d="M387.62 428.50V435.62M386.23 428.50H389.02M386.23 435.62H389.02" stroke="#222" stroke-width="0.9" fill="none"/>
<rect x="385.73" y="430.16" width="3.8" height="3.8" fill="#34547c"/>
<path d="M393.45 430.88V438.00M392.05 430.88H394.85M392.05 438.00H394.85" stroke="#222" stroke-width="0.9" fill="none"/>
<rect x="391.55" y="432.54" width="3.8" height="3.8" fill="#34547c"/>
<path d="M405.10 432.06V436.81M403.70 432.06H406.50M403.70 436.81H406.50" stroke="#222" stroke-width="0.9" fill="none"/>
<rect x="403.20" y="432.54" width="3.8" height="3.8" fill="#34547c"/>
<path d="M440.05 434.44V439.19M438.65 434.44H441.45M438.65 439.19H441.45" stroke="#222" stroke-width="0.9" fill="none"/>
<rect x="438.15" y="434.91" width="3.8" height="3.8" fill="#34547c"/>
<path d="M498.30 436.22V439.78M496.90 436.22H499.70M496.90 439.78H499.70" stroke="#222" stroke-width="0.9" fill="none"/>
<rect x="496.40" y="436.10" width="3.8" height="3.8" fill="#34547c"/>
<path d="M381.80 421.75L383.80 423.75L381.80 425.75L379.80 423.75Z" fill="#80b958"/>
<path d="M382.38 419.00V426.12M380.98 419.00H383.78M380.98 426.12H383.78" stroke="#222" stroke-width="0.9" fill="none"/>
<path d="M382.38 420.56L384.38 422.56L382.38 424.56L380.38 422.56Z" fill="#80b958"/>
<path d="M384.13 419.00V426.12M382.73 419.00H385.53M382.73 426.12H385.53" stroke="#222" stroke-width="0.9" fill="none"/>
<path d="M384.13 420.56L386.13 422.56L384.13 424.56L382.13 422.56Z" fill="#80b958"/>
<path d="M387.62 419.00V426.12M386.23 419.00H389.02M386.23 426.12H389.02" stroke="#222" stroke-width="0.9" fill="none"/>
<path d="M387.62 420.56L389.62 422.56L387.62 424.56L385.62 422.56Z" fill="#80b958"/>
<path d="M393.45 419.00V426.12M392.05 419.00H394.85M392.05 426.12H394.85" stroke="#222" stroke-width="0.9" fill="none"/>
<path d="M393.45 420.56L395.45 422.56L393.45 424.56L391.45 422.56Z" fill="#80b958"/>
<path d="M405.10 422.56V424.94M403.70 422.56H406.50M403.70 424.94H406.50" stroke="#222" stroke-width="0.9" fill="none"/>
<path d="M405.10 421.75L407.10 423.75L405.10 425.75L403.10 423.75Z" fill="#80b958"/>
<path d="M440.05 423.16V425.53M438.65 423.16H441.45M438.65 425.53H441.45" stroke="#222" stroke-width="0.9" fill="none"/>
<path d="M440.05 422.34L442.05 424.34L440.05 426.34L438.05 424.34Z" fill="#80b958"/>
<path d="M498.30 425.53V427.91M496.90 425.53H499.70M496.90 427.91H499.70" stroke="#222" stroke-width="0.9" fill="none"/>
<path d="M498.30 424.72L500.30 426.72L498.30 428.72L496.30 426.72Z" fill="#80b958"/>
<path d="M381.80 421.65L383.80 425.25L379.80 425.25Z" fill="#33286a"/>
<path d="M382.38 423.75V430.88M380.98 423.75H383.78M380.98 430.88H383.78" stroke="#222" stroke-width="0.9" fill="none"/>
<path d="M382.38 425.21L384.38 428.81L380.38 428.81Z" fill="#33286a"/>
<path d="M384.13 423.75V433.25M382.73 423.75H385.53M382.73 433.25H385.53" stroke="#222" stroke-width="0.9" fill="none"/>
<path d="M384.13 426.40L386.13 430.00L382.13 430.00Z" fill="#33286a"/>
<path d="M387.62 423.75V435.62M386.23 423.75H389.02M386.23 435.62H389.02" stroke="#222" stroke-width="0.9" fill="none"/>
<path d="M387.62 427.59L389.62 431.19L385.62 431.19Z" fill="#33286a"/>
<path d="M393.45 415.44V443.94M392.05 415.44H394.85M392.05 443.94H394.85" stroke="#222" stroke-width="0.9" fill="none"/>
<path d="M393.45 427.59L395.45 431.19L391.45 431.19Z" fill="#33286a"/>
<path d="M405.10 427.31V432.06M403.70 427.31H406.50M403.70 432.06H406.50" stroke="#222" stroke-width="0.9" fill="none"/>
<path d="M405.10 427.59L407.10 431.19L403.10 431.19Z" fill="#33286a"/>
<path d="M440.05 429.09V433.84M438.65 429.09H441.45M438.65 433.84H441.45" stroke="#222" stroke-width="0.9" fill="none"/>
<path d="M440.05 429.37L442.05 432.97L438.05 432.97Z" fill="#33286a"/>
<path d="M498.30 427.91V430.28M496.90 427.91H499.70M496.90 430.28H499.70" stroke="#222" stroke-width="0.9" fill="none"/>
<path d="M498.30 426.99L500.30 430.59L496.30 430.59Z" fill="#33286a"/>
<path d="M381.80 425.85L383.80 422.25L379.80 422.25Z" fill="#e2a532"/>
<path d="M382.38 422.56V429.69M380.98 422.56H383.78M380.98 429.69H383.78" stroke="#222" stroke-width="0.9" fill="none"/>
<path d="M382.38 428.23L384.38 424.62L380.38 424.62Z" fill="#e2a532"/>
<path d="M384.13 423.75V430.88M382.73 423.75H385.53M382.73 430.88H385.53" stroke="#222" stroke-width="0.9" fill="none"/>
<path d="M384.13 429.41L386.13 425.81L382.13 425.81Z" fill="#e2a532"/>
<path d="M387.62 424.94V432.06M386.23 424.94H389.02M386.23 432.06H389.02" stroke="#222" stroke-width="0.9" fill="none"/>
<path d="M387.62 430.60L389.62 427.00L385.62 427.00Z" fill="#e2a532"/>
<path d="M393.45 426.12V433.25M392.05 426.12H394.85M392.05 433.25H394.85" stroke="#222" stroke-width="0.9" fill="none"/>
<path d="M393.45 431.79L395.45 428.19L391.45 428.19Z" fill="#e2a532"/>
<path d="M405.10 424.94V432.06M403.70 424.94H406.50M403.70 432.06H406.50" stroke="#222" stroke-width="0.9" fill="none"/>
<path d="M405.10 430.60L407.10 427.00L403.10 427.00Z" fill="#e2a532"/>
<path d="M440.05 419.00V428.50M438.65 419.00H441.45M438.65 428.50H441.45" stroke="#222" stroke-width="0.9" fill="none"/>
<path d="M440.05 425.85L442.05 422.25L438.05 422.25Z" fill="#e2a532"/>
<path d="M498.30 419.00V426.12M496.90 419.00H499.70M496.90 426.12H499.70" stroke="#222" stroke-width="0.9" fill="none"/>
<path d="M498.30 424.66L500.30 421.06L496.30 421.06Z" fill="#e2a532"/>
<line x1="381.8" y1="411.2" x2="381.8" y2="543.2" stroke="#000" stroke-width="1.35"/>
<line x1="381.1" y1="542.5" x2="510" y2="542.5" stroke="#000" stroke-width="1.35"/>
<line x1="378.5" y1="542.50" x2="381.8" y2="542.50" stroke="#111" stroke-width="0.9"/>
<text transform="translate(376.00 544.90) scale(1 1.15)" font-size="6" text-anchor="end" fill="#000">0</text>
<line x1="381.80" y1="542.5" x2="381.80" y2="545.5" stroke="#111" stroke-width="0.9"/>
<text transform="translate(382.20 554.30) scale(1 1.15)" font-size="6" text-anchor="middle" fill="#000">0</text>
<line x1="378.5" y1="518.75" x2="381.8" y2="518.75" stroke="#111" stroke-width="0.9"/>
<text transform="translate(376.00 521.15) scale(1 1.15)" font-size="6" text-anchor="end" fill="#000">20</text>
<line x1="405.10" y1="542.5" x2="405.10" y2="545.5" stroke="#111" stroke-width="0.9"/>
<text transform="translate(405.50 554.30) scale(1 1.15)" font-size="6" text-anchor="middle" fill="#000">20</text>
<line x1="378.5" y1="495.00" x2="381.8" y2="495.00" stroke="#111" stroke-width="0.9"/>
<text transform="translate(376.00 497.40) scale(1 1.15)" font-size="6" text-anchor="end" fill="#000">40</text>
<line x1="428.40" y1="542.5" x2="428.40" y2="545.5" stroke="#111" stroke-width="0.9"/>
<text transform="translate(428.80 554.30) scale(1 1.15)" font-size="6" text-anchor="middle" fill="#000">40</text>
<line x1="378.5" y1="471.25" x2="381.8" y2="471.25" stroke="#111" stroke-width="0.9"/>
<text transform="translate(376.00 473.65) scale(1 1.15)" font-size="6" text-anchor="end" fill="#000">60</text>
<line x1="451.70" y1="542.5" x2="451.70" y2="545.5" stroke="#111" stroke-width="0.9"/>
<text transform="translate(452.10 554.30) scale(1 1.15)" font-size="6" text-anchor="middle" fill="#000">60</text>
<line x1="378.5" y1="447.50" x2="381.8" y2="447.50" stroke="#111" stroke-width="0.9"/>
<text transform="translate(376.00 449.90) scale(1 1.15)" font-size="6" text-anchor="end" fill="#000">80</text>
<line x1="475.00" y1="542.5" x2="475.00" y2="545.5" stroke="#111" stroke-width="0.9"/>
<text transform="translate(475.40 554.30) scale(1 1.15)" font-size="6" text-anchor="middle" fill="#000">80</text>
<line x1="378.5" y1="423.75" x2="381.8" y2="423.75" stroke="#111" stroke-width="0.9"/>
<text transform="translate(376.00 426.15) scale(1 1.15)" font-size="6" text-anchor="end" fill="#000">100</text>
<line x1="498.30" y1="542.5" x2="498.30" y2="545.5" stroke="#111" stroke-width="0.9"/>
<text transform="translate(498.70 554.30) scale(1 1.15)" font-size="6" text-anchor="middle" fill="#000">100</text>
<text transform="translate(359.00 476.85) rotate(-90) scale(1.06 1)" font-size="7.9" text-anchor="middle" fill="#000">Viability (% control)</text>
<text transform="translate(445.90 566.10) scale(1 1.2)" font-size="8.2" text-anchor="middle" fill="#111">[Drug nM]</text>
<text transform="translate(446.55 407.00) scale(1 1.15)" font-size="9" font-weight="bold" text-anchor="middle" textLength="84.6" lengthAdjust="spacingAndGlyphs">AML5 (Refractory)</text>
<line x1="388.5" y1="508.30" x2="401.8" y2="508.30" stroke="#a3173a" stroke-width="1.2"/>
<circle cx="395.10" cy="508.30" r="2" fill="#a3173a"/>
<text transform="translate(404.80 510.20) scale(1 1.15)" font-size="5.3" fill="#000">Gilteritinib</text>
<line x1="388.5" y1="514.50" x2="401.8" y2="514.50" stroke="#34547c" stroke-width="1.2" stroke-dasharray="1.5,1"/>
<rect x="393.20" y="512.60" width="3.8" height="3.8" fill="#34547c"/>
<text transform="translate(404.80 516.40) scale(1 1.15)" font-size="5.3" fill="#000">Crenolanib</text>
<line x1="388.5" y1="520.70" x2="401.8" y2="520.70" stroke="#80b958" stroke-width="1.2"/>
<path d="M395.10 518.70L397.10 520.70L395.10 522.70L393.10 520.70Z" fill="#80b958"/>
<text transform="translate(404.80 522.60) scale(1 1.15)" font-size="5.3" fill="#000">Quizartinib</text>
<line x1="388.5" y1="526.90" x2="401.8" y2="526.90" stroke="#33286a" stroke-width="1.2" stroke-dasharray="3,1,1,1,1,1"/>
<path d="M395.10 524.80L397.10 528.40L393.10 528.40Z" fill="#33286a"/>
<text transform="translate(404.80 528.80) scale(1 1.15)" font-size="5.3" fill="#000">Midostaurin</text>
<line x1="388.5" y1="533.10" x2="401.8" y2="533.10" stroke="#e2a532" stroke-width="1.2" stroke-dasharray="3.5,2.3"/>
<path d="M395.10 535.20L397.10 531.60L393.10 531.60Z" fill="#e2a532"/>
<text transform="translate(404.80 535.00) scale(1 1.15)" font-size="5.3" fill="#000">Sorafenib</text>
</svg></body></html>
